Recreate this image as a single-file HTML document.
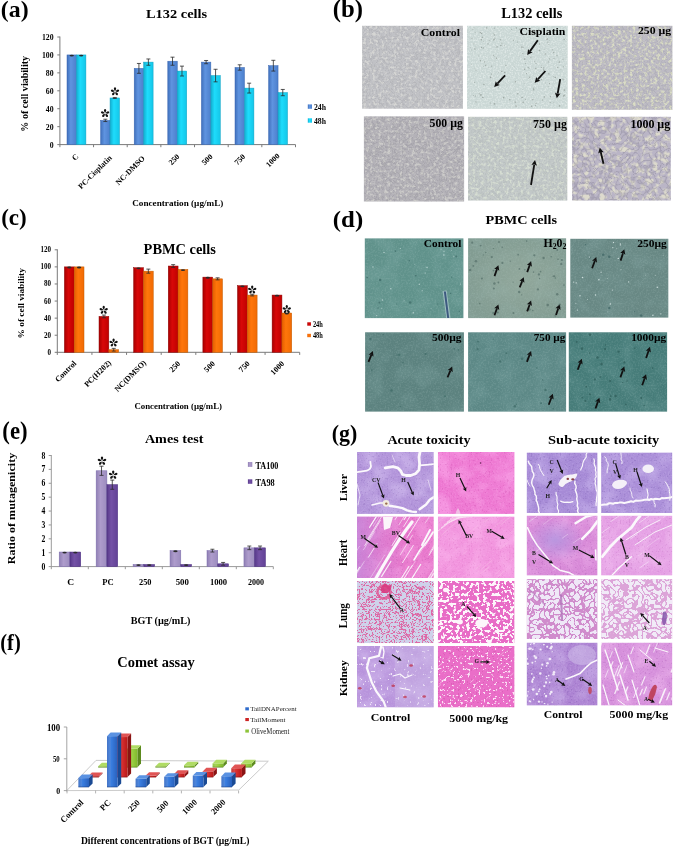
<!DOCTYPE html>
<html><head><meta charset="utf-8"><title>Figure</title>
<style>html,body{margin:0;padding:0;background:#fff;overflow:hidden;}svg{display:block;filter:blur(0.3px);}</style>
</head><body>
<svg xmlns="http://www.w3.org/2000/svg" width="675" height="848" viewBox="0 0 675 848">
<defs><linearGradient id="gBlue" x1="0" x2="1" y1="0" y2="0"><stop offset="0" stop-color="#4070bc"/><stop offset="0.4" stop-color="#5f94e0"/><stop offset="1" stop-color="#4c7fcc"/></linearGradient><linearGradient id="gCyan" x1="0" x2="1" y1="0" y2="0"><stop offset="0" stop-color="#12aed0"/><stop offset="0.4" stop-color="#1edcfc"/><stop offset="1" stop-color="#14c6e8"/></linearGradient><linearGradient id="gRed" x1="0" x2="1" y1="0" y2="0"><stop offset="0" stop-color="#a80000"/><stop offset="0.4" stop-color="#d80808"/><stop offset="1" stop-color="#c00000"/></linearGradient><linearGradient id="gOrange" x1="0" x2="1" y1="0" y2="0"><stop offset="0" stop-color="#e45e00"/><stop offset="0.4" stop-color="#ff760a"/><stop offset="1" stop-color="#f06a04"/></linearGradient><linearGradient id="gLav" x1="0" x2="1" y1="0" y2="0"><stop offset="0" stop-color="#9080b4"/><stop offset="0.4" stop-color="#ae9ccc"/><stop offset="1" stop-color="#9c8cbe"/></linearGradient><linearGradient id="gPur" x1="0" x2="1" y1="0" y2="0"><stop offset="0" stop-color="#583a8a"/><stop offset="0.4" stop-color="#7452a6"/><stop offset="1" stop-color="#624296"/></linearGradient><filter id="cellL" x="0" y="0" width="1" height="1" color-interpolation-filters="sRGB"><feTurbulence type="fractalNoise" baseFrequency="0.25" numOctaves="2" seed="2" result="t"/><feColorMatrix in="t" type="matrix" values="0 0 0 0 0  0 0 0 0 0  0 0 0 0 0  4 0 0 0 -2.0" result="th"/><feComposite in="SourceGraphic" in2="th" operator="in"/></filter><filter id="cellW" x="0" y="0" width="1" height="1" color-interpolation-filters="sRGB"><feTurbulence type="turbulence" baseFrequency="0.22" numOctaves="1" seed="4" result="t"/><feColorMatrix in="t" type="matrix" values="0 0 0 0 0  0 0 0 0 0  0 0 0 0 0  -6 0 0 0 1.0" result="th"/><feComposite in="SourceGraphic" in2="th" operator="in"/></filter><filter id="cellL2" x="0" y="0" width="1" height="1" color-interpolation-filters="sRGB"><feTurbulence type="fractalNoise" baseFrequency="0.14" numOctaves="2" seed="6" result="t"/><feColorMatrix in="t" type="matrix" values="0 0 0 0 0  0 0 0 0 0  0 0 0 0 0  4 0 0 0 -2.0" result="th"/><feComposite in="SourceGraphic" in2="th" operator="in"/></filter><filter id="cellW2" x="0" y="0" width="1" height="1" color-interpolation-filters="sRGB"><feTurbulence type="turbulence" baseFrequency="0.13" numOctaves="1" seed="8" result="t"/><feColorMatrix in="t" type="matrix" values="0 0 0 0 0  0 0 0 0 0  0 0 0 0 0  -6 0 0 0 1.0" result="th"/><feComposite in="SourceGraphic" in2="th" operator="in"/></filter><filter id="cellL3" x="0" y="0" width="1" height="1" color-interpolation-filters="sRGB"><feTurbulence type="fractalNoise" baseFrequency="0.19" numOctaves="2" seed="6" result="t"/><feColorMatrix in="t" type="matrix" values="0 0 0 0 0  0 0 0 0 0  0 0 0 0 0  4 0 0 0 -1.8" result="th"/><feComposite in="SourceGraphic" in2="th" operator="in"/></filter><filter id="cellF" x="0" y="0" width="1" height="1" color-interpolation-filters="sRGB"><feTurbulence type="fractalNoise" baseFrequency="0.33" numOctaves="2" seed="3" result="t"/><feColorMatrix in="t" type="matrix" values="0 0 0 0 0  0 0 0 0 0  0 0 0 0 0  4 0 0 0 -1.9" result="th"/><feComposite in="SourceGraphic" in2="th" operator="in"/></filter><filter id="cellWF" x="0" y="0" width="1" height="1" color-interpolation-filters="sRGB"><feTurbulence type="turbulence" baseFrequency="0.3" numOctaves="1" seed="5" result="t"/><feColorMatrix in="t" type="matrix" values="0 0 0 0 0  0 0 0 0 0  0 0 0 0 0  -6 0 0 0 1.0" result="th"/><feComposite in="SourceGraphic" in2="th" operator="in"/></filter><filter id="cellW3" x="0" y="0" width="1" height="1" color-interpolation-filters="sRGB"><feTurbulence type="turbulence" baseFrequency="0.18" numOctaves="1" seed="8" result="t"/><feColorMatrix in="t" type="matrix" values="0 0 0 0 0  0 0 0 0 0  0 0 0 0 0  -6 0 0 0 1.0" result="th"/><feComposite in="SourceGraphic" in2="th" operator="in"/></filter><filter id="fine" x="0" y="0" width="1" height="1" color-interpolation-filters="sRGB"><feTurbulence type="fractalNoise" baseFrequency="0.6" numOctaves="2" seed="12" result="t"/><feColorMatrix in="t" type="matrix" values="0 0 0 0 0  0 0 0 0 0  0 0 0 0 0  3 0 0 0 -1.3" result="th"/><feComposite in="SourceGraphic" in2="th" operator="in"/></filter><filter id="coarse" x="0" y="0" width="1" height="1" color-interpolation-filters="sRGB"><feTurbulence type="fractalNoise" baseFrequency="0.06" numOctaves="2" seed="14" result="t"/><feColorMatrix in="t" type="matrix" values="0 0 0 0 0  0 0 0 0 0  0 0 0 0 0  3 0 0 0 -1.2" result="th"/><feComposite in="SourceGraphic" in2="th" operator="in"/></filter><filter id="coarse2" x="0" y="0" width="1" height="1" color-interpolation-filters="sRGB"><feTurbulence type="fractalNoise" baseFrequency="0.05" numOctaves="2" seed="31" result="t"/><feColorMatrix in="t" type="matrix" values="0 0 0 0 0  0 0 0 0 0  0 0 0 0 0  3 0 0 0 -1.2" result="th"/><feComposite in="SourceGraphic" in2="th" operator="in"/></filter><filter id="nuc" x="0" y="0" width="1" height="1" color-interpolation-filters="sRGB"><feTurbulence type="fractalNoise" baseFrequency="0.55" numOctaves="1" seed="17" result="t"/><feColorMatrix in="t" type="matrix" values="0 0 0 0 0  0 0 0 0 0  0 0 0 0 0  1 0 0 0 0" result="m"/><feComponentTransfer in="m" result="th0"><feFuncA type="table" tableValues="0 0 0 0 0 0 0 0 0 0 0 0 0 1 1 1 1 1 1 1"/></feComponentTransfer><feGaussianBlur in="th0" stdDeviation="0.35" result="th"/><feComposite in="SourceGraphic" in2="th" operator="in"/></filter><filter id="lungNet" x="0" y="0" width="1" height="1" color-interpolation-filters="sRGB"><feTurbulence type="turbulence" baseFrequency="0.3" numOctaves="1" seed="7" result="t"/><feColorMatrix in="t" type="matrix" values="0 0 0 0 0  0 0 0 0 0  0 0 0 0 0  1 0 0 0 0" result="m"/><feComponentTransfer in="m" result="th0"><feFuncA type="table" tableValues="1 1 0 0 0 0 0 0 0 0 0 0 0 0 0 0 0 0 0 0"/></feComponentTransfer><feGaussianBlur in="th0" stdDeviation="0.5" result="th"/><feComposite in="SourceGraphic" in2="th" operator="in"/></filter><filter id="lungNetL" x="0" y="0" width="1" height="1" color-interpolation-filters="sRGB"><feTurbulence type="turbulence" baseFrequency="0.13" numOctaves="1" seed="9" result="t"/><feColorMatrix in="t" type="matrix" values="0 0 0 0 0  0 0 0 0 0  0 0 0 0 0  1 0 0 0 0" result="m"/><feComponentTransfer in="m" result="th0"><feFuncA type="table" tableValues="1 1 1 0 0 0 0 0 0 0 0 0 0 0 0 0 0 0 0 0"/></feComponentTransfer><feGaussianBlur in="th0" stdDeviation="0.45" result="th"/><feComposite in="SourceGraphic" in2="th" operator="in"/></filter><filter id="foam" x="0" y="0" width="1" height="1" color-interpolation-filters="sRGB"><feTurbulence type="turbulence" baseFrequency="0.2" numOctaves="1" seed="9" result="t"/><feColorMatrix in="t" type="matrix" values="0 0 0 0 0  0 0 0 0 0  0 0 0 0 0  1 0 0 0 0" result="m"/><feComponentTransfer in="m" result="th0"><feFuncA type="table" tableValues="0 0 0 1 1 1 1 1 1 1 1 1 1 1 1 1 1 1 1 1"/></feComponentTransfer><feGaussianBlur in="th0" stdDeviation="0.4" result="th"/><feComposite in="SourceGraphic" in2="th" operator="in"/></filter><filter id="foam2" x="0" y="0" width="1" height="1" color-interpolation-filters="sRGB"><feTurbulence type="turbulence" baseFrequency="0.21" numOctaves="1" seed="13" result="t"/><feColorMatrix in="t" type="matrix" values="0 0 0 0 0  0 0 0 0 0  0 0 0 0 0  1 0 0 0 0" result="m"/><feComponentTransfer in="m" result="th0"><feFuncA type="table" tableValues="0 0 0 1 1 1 1 1 1 1 1 1 1 1 1 1 1 1 1 1"/></feComponentTransfer><feGaussianBlur in="th0" stdDeviation="0.4" result="th"/><feComposite in="SourceGraphic" in2="th" operator="in"/></filter><filter id="lungHoles" x="0" y="0" width="1" height="1" color-interpolation-filters="sRGB"><feTurbulence type="fractalNoise" baseFrequency="0.3" numOctaves="2" seed="5" result="t"/><feColorMatrix in="t" type="matrix" values="0 0 0 0 0  0 0 0 0 0  0 0 0 0 0  1 0 0 0 0" result="m"/><feComponentTransfer in="m" result="th0"><feFuncA type="table" tableValues="0 0 0 0 0 0 0 0 0 0 0 1 1 1 1 1 1 1 1 1"/></feComponentTransfer><feGaussianBlur in="th0" stdDeviation="0.45" result="th"/><feComposite in="SourceGraphic" in2="th" operator="in"/></filter><filter id="kidHoles" x="0" y="0" width="1" height="1" color-interpolation-filters="sRGB"><feTurbulence type="fractalNoise" baseFrequency="0.22" numOctaves="1" seed="15" result="t"/><feColorMatrix in="t" type="matrix" values="0 0 0 0 0  0 0 0 0 0  0 0 0 0 0  1 0 0 0 0" result="m"/><feComponentTransfer in="m" result="th0"><feFuncA type="table" tableValues="0 0 0 0 0 0 0 0 0 0 0 0 0 1 1 1 1 1 1 1"/></feComponentTransfer><feGaussianBlur in="th0" stdDeviation="0.35" result="th"/><feComposite in="SourceGraphic" in2="th" operator="in"/></filter><filter id="kidHoles2" x="0" y="0" width="1" height="1" color-interpolation-filters="sRGB"><feTurbulence type="fractalNoise" baseFrequency="0.38" numOctaves="2" seed="23" result="t"/><feColorMatrix in="t" type="matrix" values="0 0 0 0 0  0 0 0 0 0  0 0 0 0 0  1 0 0 0 0" result="m"/><feComponentTransfer in="m" result="th0"><feFuncA type="table" tableValues="0 0 0 0 0 0 0 0 0 0 0 0 0 1 1 1 1 1 1 1"/></feComponentTransfer><feGaussianBlur in="th0" stdDeviation="0.4" result="th"/><feComposite in="SourceGraphic" in2="th" operator="in"/></filter><filter id="kidHoles3" x="0" y="0" width="1" height="1" color-interpolation-filters="sRGB"><feTurbulence type="fractalNoise" baseFrequency="0.3" numOctaves="2" seed="29" result="t"/><feColorMatrix in="t" type="matrix" values="0 0 0 0 0  0 0 0 0 0  0 0 0 0 0  1 0 0 0 0" result="m"/><feComponentTransfer in="m" result="th0"><feFuncA type="table" tableValues="0 0 0 0 0 0 0 0 0 0 0 0 0 0 1 1 1 1 1 1"/></feComponentTransfer><feGaussianBlur in="th0" stdDeviation="0.4" result="th"/><feComposite in="SourceGraphic" in2="th" operator="in"/></filter><filter id="tubules" x="0" y="0" width="1" height="1" color-interpolation-filters="sRGB"><feTurbulence type="fractalNoise" baseFrequency="0.3" numOctaves="1" seed="19" result="t"/><feColorMatrix in="t" type="matrix" values="0 0 0 0 0  0 0 0 0 0  0 0 0 0 0  1 0 0 0 0" result="m"/><feComponentTransfer in="m" result="th0"><feFuncA type="table" tableValues="0 0 0 0 0 0 0 0 0 0 0 0 0 0 1 1 1 1 1 1"/></feComponentTransfer><feGaussianBlur in="th0" stdDeviation="0.35" result="th"/><feComposite in="SourceGraphic" in2="th" operator="in"/></filter><linearGradient id="f3b" x1="0" x2="1" y1="0" y2="0"><stop offset="0" stop-color="#2a62c0"/><stop offset="0.4" stop-color="#3a7ee0"/><stop offset="1" stop-color="#2860bc"/></linearGradient><linearGradient id="f3r" x1="0" x2="1" y1="0" y2="0"><stop offset="0" stop-color="#c01c1c"/><stop offset="0.4" stop-color="#dc3434"/><stop offset="1" stop-color="#b81818"/></linearGradient><linearGradient id="f3g" x1="0" x2="1" y1="0" y2="0"><stop offset="0" stop-color="#84bc30"/><stop offset="0.4" stop-color="#a0d448"/><stop offset="1" stop-color="#80b82c"/></linearGradient></defs>
<rect width="675" height="848" fill="#fff"/>
<text font-family="Liberation Serif" font-weight="bold" font-size="24" text-anchor="start" fill="#000" transform="translate(0.81 17.02) scale(0.992 0.995) rotate(0)">(a)</text>
<text font-family="Liberation Serif" font-weight="bold" font-size="14" text-anchor="start" fill="#000" transform="translate(146.00 18.10) scale(1.029 0.950) rotate(0)">L132 cells</text>
<line x1="59.90" y1="36.50" x2="59.90" y2="145.10" stroke="#7a7a7a" stroke-width="1" />
<line x1="59.90" y1="144.60" x2="295.50" y2="144.60" stroke="#7a7a7a" stroke-width="1" />
<line x1="57.30" y1="144.60" x2="59.90" y2="144.60" stroke="#7a7a7a" stroke-width="1" />
<line x1="57.30" y1="126.67" x2="59.90" y2="126.67" stroke="#7a7a7a" stroke-width="1" />
<line x1="57.30" y1="108.73" x2="59.90" y2="108.73" stroke="#7a7a7a" stroke-width="1" />
<line x1="57.30" y1="90.80" x2="59.90" y2="90.80" stroke="#7a7a7a" stroke-width="1" />
<line x1="57.30" y1="72.87" x2="59.90" y2="72.87" stroke="#7a7a7a" stroke-width="1" />
<line x1="57.30" y1="54.93" x2="59.90" y2="54.93" stroke="#7a7a7a" stroke-width="1" />
<line x1="57.30" y1="37.00" x2="59.90" y2="37.00" stroke="#7a7a7a" stroke-width="1" />
<line x1="59.90" y1="144.60" x2="59.90" y2="147.20" stroke="#7a7a7a" stroke-width="1" />
<line x1="93.56" y1="144.60" x2="93.56" y2="147.20" stroke="#7a7a7a" stroke-width="1" />
<line x1="127.21" y1="144.60" x2="127.21" y2="147.20" stroke="#7a7a7a" stroke-width="1" />
<line x1="160.87" y1="144.60" x2="160.87" y2="147.20" stroke="#7a7a7a" stroke-width="1" />
<line x1="194.53" y1="144.60" x2="194.53" y2="147.20" stroke="#7a7a7a" stroke-width="1" />
<line x1="228.19" y1="144.60" x2="228.19" y2="147.20" stroke="#7a7a7a" stroke-width="1" />
<line x1="261.84" y1="144.60" x2="261.84" y2="147.20" stroke="#7a7a7a" stroke-width="1" />
<line x1="295.50" y1="144.60" x2="295.50" y2="147.20" stroke="#7a7a7a" stroke-width="1" />
<rect x="67.00" y="54.93" width="9.45" height="89.67" fill="url(#gBlue)" stroke="#3966b2" stroke-width="0.5"/>
<ellipse cx="71.72" cy="55.53" rx="2.20" ry="0.9" fill="#2a2a2a"/>
<rect x="76.45" y="54.93" width="9.45" height="89.67" fill="url(#gCyan)" stroke="#0fa2c4" stroke-width="0.5"/>
<ellipse cx="81.17" cy="55.53" rx="2.20" ry="0.9" fill="#2a2a2a"/>
<rect x="100.60" y="120.39" width="9.45" height="24.21" fill="url(#gBlue)" stroke="#3966b2" stroke-width="0.5"/>
<line x1="105.32" y1="119.22" x2="105.32" y2="121.56" stroke="#2a2a2a" stroke-width="0.8" />
<line x1="103.32" y1="119.22" x2="107.32" y2="119.22" stroke="#2a2a2a" stroke-width="0.8" />
<line x1="103.32" y1="121.56" x2="107.32" y2="121.56" stroke="#2a2a2a" stroke-width="0.8" />
<rect x="110.05" y="97.97" width="9.45" height="46.63" fill="url(#gCyan)" stroke="#0fa2c4" stroke-width="0.5"/>
<line x1="114.77" y1="97.44" x2="114.77" y2="98.51" stroke="#2a2a2a" stroke-width="0.8" />
<line x1="112.77" y1="97.44" x2="116.77" y2="97.44" stroke="#2a2a2a" stroke-width="0.8" />
<line x1="112.77" y1="98.51" x2="116.77" y2="98.51" stroke="#2a2a2a" stroke-width="0.8" />
<rect x="134.20" y="68.38" width="9.45" height="76.22" fill="url(#gBlue)" stroke="#3966b2" stroke-width="0.5"/>
<line x1="138.92" y1="63.45" x2="138.92" y2="73.31" stroke="#2a2a2a" stroke-width="0.8" />
<line x1="136.92" y1="63.45" x2="140.92" y2="63.45" stroke="#2a2a2a" stroke-width="0.8" />
<line x1="136.92" y1="73.31" x2="140.92" y2="73.31" stroke="#2a2a2a" stroke-width="0.8" />
<rect x="143.65" y="62.11" width="9.45" height="82.49" fill="url(#gCyan)" stroke="#0fa2c4" stroke-width="0.5"/>
<line x1="148.37" y1="58.97" x2="148.37" y2="65.25" stroke="#2a2a2a" stroke-width="0.8" />
<line x1="146.37" y1="58.97" x2="150.37" y2="58.97" stroke="#2a2a2a" stroke-width="0.8" />
<line x1="146.37" y1="65.25" x2="150.37" y2="65.25" stroke="#2a2a2a" stroke-width="0.8" />
<rect x="167.80" y="61.21" width="9.45" height="83.39" fill="url(#gBlue)" stroke="#3966b2" stroke-width="0.5"/>
<line x1="172.53" y1="57.17" x2="172.53" y2="65.24" stroke="#2a2a2a" stroke-width="0.8" />
<line x1="170.53" y1="57.17" x2="174.53" y2="57.17" stroke="#2a2a2a" stroke-width="0.8" />
<line x1="170.53" y1="65.24" x2="174.53" y2="65.24" stroke="#2a2a2a" stroke-width="0.8" />
<rect x="177.25" y="71.07" width="9.45" height="73.53" fill="url(#gCyan)" stroke="#0fa2c4" stroke-width="0.5"/>
<line x1="181.97" y1="66.14" x2="181.97" y2="76.01" stroke="#2a2a2a" stroke-width="0.8" />
<line x1="179.97" y1="66.14" x2="183.97" y2="66.14" stroke="#2a2a2a" stroke-width="0.8" />
<line x1="179.97" y1="76.01" x2="183.97" y2="76.01" stroke="#2a2a2a" stroke-width="0.8" />
<rect x="201.40" y="62.11" width="9.45" height="82.49" fill="url(#gBlue)" stroke="#3966b2" stroke-width="0.5"/>
<line x1="206.12" y1="60.49" x2="206.12" y2="63.72" stroke="#2a2a2a" stroke-width="0.8" />
<line x1="204.12" y1="60.49" x2="208.12" y2="60.49" stroke="#2a2a2a" stroke-width="0.8" />
<line x1="204.12" y1="63.72" x2="208.12" y2="63.72" stroke="#2a2a2a" stroke-width="0.8" />
<rect x="210.85" y="75.56" width="9.45" height="69.04" fill="url(#gCyan)" stroke="#0fa2c4" stroke-width="0.5"/>
<line x1="215.57" y1="69.28" x2="215.57" y2="81.83" stroke="#2a2a2a" stroke-width="0.8" />
<line x1="213.57" y1="69.28" x2="217.57" y2="69.28" stroke="#2a2a2a" stroke-width="0.8" />
<line x1="213.57" y1="81.83" x2="217.57" y2="81.83" stroke="#2a2a2a" stroke-width="0.8" />
<rect x="235.00" y="67.49" width="9.45" height="77.11" fill="url(#gBlue)" stroke="#3966b2" stroke-width="0.5"/>
<line x1="239.72" y1="64.80" x2="239.72" y2="70.18" stroke="#2a2a2a" stroke-width="0.8" />
<line x1="237.72" y1="64.80" x2="241.72" y2="64.80" stroke="#2a2a2a" stroke-width="0.8" />
<line x1="237.72" y1="70.18" x2="241.72" y2="70.18" stroke="#2a2a2a" stroke-width="0.8" />
<rect x="244.45" y="88.11" width="9.45" height="56.49" fill="url(#gCyan)" stroke="#0fa2c4" stroke-width="0.5"/>
<line x1="249.17" y1="83.18" x2="249.17" y2="93.04" stroke="#2a2a2a" stroke-width="0.8" />
<line x1="247.17" y1="83.18" x2="251.17" y2="83.18" stroke="#2a2a2a" stroke-width="0.8" />
<line x1="247.17" y1="93.04" x2="251.17" y2="93.04" stroke="#2a2a2a" stroke-width="0.8" />
<rect x="268.60" y="65.69" width="9.45" height="78.91" fill="url(#gBlue)" stroke="#3966b2" stroke-width="0.5"/>
<line x1="273.33" y1="60.31" x2="273.33" y2="71.07" stroke="#2a2a2a" stroke-width="0.8" />
<line x1="271.33" y1="60.31" x2="275.33" y2="60.31" stroke="#2a2a2a" stroke-width="0.8" />
<line x1="271.33" y1="71.07" x2="275.33" y2="71.07" stroke="#2a2a2a" stroke-width="0.8" />
<rect x="278.05" y="92.59" width="9.45" height="52.01" fill="url(#gCyan)" stroke="#0fa2c4" stroke-width="0.5"/>
<line x1="282.78" y1="89.45" x2="282.78" y2="95.73" stroke="#2a2a2a" stroke-width="0.8" />
<line x1="280.78" y1="89.45" x2="284.78" y2="89.45" stroke="#2a2a2a" stroke-width="0.8" />
<line x1="280.78" y1="95.73" x2="284.78" y2="95.73" stroke="#2a2a2a" stroke-width="0.8" />
<text font-family="Liberation Serif" font-weight="bold" font-size="8.2" text-anchor="end" fill="#000" transform="translate(53.60 147.50) scale(0.950 1.120) rotate(0)">0</text>
<text font-family="Liberation Serif" font-weight="bold" font-size="8.2" text-anchor="end" fill="#000" transform="translate(53.60 129.57) scale(0.950 1.120) rotate(0)">20</text>
<text font-family="Liberation Serif" font-weight="bold" font-size="8.2" text-anchor="end" fill="#000" transform="translate(53.60 111.63) scale(0.950 1.120) rotate(0)">40</text>
<text font-family="Liberation Serif" font-weight="bold" font-size="8.2" text-anchor="end" fill="#000" transform="translate(53.60 93.70) scale(0.950 1.120) rotate(0)">60</text>
<text font-family="Liberation Serif" font-weight="bold" font-size="8.2" text-anchor="end" fill="#000" transform="translate(53.60 75.77) scale(0.950 1.120) rotate(0)">80</text>
<text font-family="Liberation Serif" font-weight="bold" font-size="8.2" text-anchor="end" fill="#000" transform="translate(53.60 57.83) scale(0.950 1.120) rotate(0)">100</text>
<text font-family="Liberation Serif" font-weight="bold" font-size="8.2" text-anchor="end" fill="#000" transform="translate(53.60 39.90) scale(0.950 1.120) rotate(0)">120</text>
<text font-family="Liberation Serif" font-weight="bold" font-size="9.5" text-anchor="start" fill="#000" transform="translate(28.30 131.66) scale(0.986 1.060) rotate(-90)">% of cell viability</text>
<g transform="translate(105.10 113.40)" fill="#111"><path d="M0 -0.52 C -0.98 -1.52 -1.96 -3.91 0 -4.35 C 1.96 -3.91 0.98 -1.52 0 -0.52 Z" transform="rotate(0)"/><path d="M0 -0.52 C -0.98 -1.52 -1.96 -3.91 0 -4.35 C 1.96 -3.91 0.98 -1.52 0 -0.52 Z" transform="rotate(72)"/><path d="M0 -0.52 C -0.98 -1.52 -1.96 -3.91 0 -4.35 C 1.96 -3.91 0.98 -1.52 0 -0.52 Z" transform="rotate(144)"/><path d="M0 -0.52 C -0.98 -1.52 -1.96 -3.91 0 -4.35 C 1.96 -3.91 0.98 -1.52 0 -0.52 Z" transform="rotate(216)"/><path d="M0 -0.52 C -0.98 -1.52 -1.96 -3.91 0 -4.35 C 1.96 -3.91 0.98 -1.52 0 -0.52 Z" transform="rotate(288)"/></g>
<g transform="translate(115.00 91.70)" fill="#111"><path d="M0 -0.52 C -0.98 -1.52 -1.96 -3.91 0 -4.35 C 1.96 -3.91 0.98 -1.52 0 -0.52 Z" transform="rotate(0)"/><path d="M0 -0.52 C -0.98 -1.52 -1.96 -3.91 0 -4.35 C 1.96 -3.91 0.98 -1.52 0 -0.52 Z" transform="rotate(72)"/><path d="M0 -0.52 C -0.98 -1.52 -1.96 -3.91 0 -4.35 C 1.96 -3.91 0.98 -1.52 0 -0.52 Z" transform="rotate(144)"/><path d="M0 -0.52 C -0.98 -1.52 -1.96 -3.91 0 -4.35 C 1.96 -3.91 0.98 -1.52 0 -0.52 Z" transform="rotate(216)"/><path d="M0 -0.52 C -0.98 -1.52 -1.96 -3.91 0 -4.35 C 1.96 -3.91 0.98 -1.52 0 -0.52 Z" transform="rotate(288)"/></g>
<text font-family="Liberation Serif" font-weight="bold" font-size="7.9" text-anchor="end" fill="#000" transform="translate(79.00 157.00) scale(1.000 1.000) rotate(-45)">C</text>
<text font-family="Liberation Serif" font-weight="bold" font-size="7.9" text-anchor="end" fill="#000" transform="translate(112.30 158.40) scale(1.000 1.000) rotate(-45)">PC-Cisplatin</text>
<text font-family="Liberation Serif" font-weight="bold" font-size="7.9" text-anchor="end" fill="#000" transform="translate(145.40 158.80) scale(1.000 1.000) rotate(-45)">NC-DMSO</text>
<text font-family="Liberation Serif" font-weight="bold" font-size="7.9" text-anchor="end" fill="#000" transform="translate(180.00 157.10) scale(1.000 1.000) rotate(-45)">250</text>
<text font-family="Liberation Serif" font-weight="bold" font-size="7.9" text-anchor="end" fill="#000" transform="translate(213.20 157.10) scale(1.000 1.000) rotate(-45)">500</text>
<text font-family="Liberation Serif" font-weight="bold" font-size="7.9" text-anchor="end" fill="#000" transform="translate(245.80 157.10) scale(1.000 1.000) rotate(-45)">750</text>
<text font-family="Liberation Serif" font-weight="bold" font-size="7.9" text-anchor="end" fill="#000" transform="translate(280.20 156.50) scale(1.000 1.000) rotate(-45)">1000</text>
<text font-family="Liberation Serif" font-weight="bold" font-size="9.5" text-anchor="start" fill="#000" transform="translate(132.20 206.40) scale(0.966 0.929) rotate(0)">Concentration (µg/mL)</text>
<rect x="307.80" y="104.40" width="4.20" height="4.40" fill="url(#gBlue)" />
<text font-family="Liberation Serif" font-weight="bold" font-size="8.5" text-anchor="start" fill="#000" transform="translate(314.00 110.20) scale(0.908 1.000) rotate(0)">24h</text>
<rect x="307.80" y="118.30" width="4.20" height="4.40" fill="url(#gCyan)" />
<text font-family="Liberation Serif" font-weight="bold" font-size="8.5" text-anchor="start" fill="#000" transform="translate(314.00 123.90) scale(0.908 0.950) rotate(0)">48h</text>
<text font-family="Liberation Serif" font-weight="bold" font-size="24" text-anchor="start" fill="#000" transform="translate(1.14 224.78) scale(0.960 1.005) rotate(0)">(c)</text>
<text font-family="Liberation Serif" font-weight="bold" font-size="14" text-anchor="start" fill="#000" transform="translate(143.60 254.00) scale(1.029 0.980) rotate(0)">PBMC cells</text>
<line x1="57.30" y1="249.30" x2="57.30" y2="352.80" stroke="#7a7a7a" stroke-width="1" />
<line x1="57.30" y1="352.30" x2="299.70" y2="352.30" stroke="#7a7a7a" stroke-width="1" />
<line x1="54.70" y1="352.30" x2="57.30" y2="352.30" stroke="#7a7a7a" stroke-width="1" />
<line x1="54.70" y1="335.22" x2="57.30" y2="335.22" stroke="#7a7a7a" stroke-width="1" />
<line x1="54.70" y1="318.13" x2="57.30" y2="318.13" stroke="#7a7a7a" stroke-width="1" />
<line x1="54.70" y1="301.05" x2="57.30" y2="301.05" stroke="#7a7a7a" stroke-width="1" />
<line x1="54.70" y1="283.97" x2="57.30" y2="283.97" stroke="#7a7a7a" stroke-width="1" />
<line x1="54.70" y1="266.88" x2="57.30" y2="266.88" stroke="#7a7a7a" stroke-width="1" />
<line x1="54.70" y1="249.80" x2="57.30" y2="249.80" stroke="#7a7a7a" stroke-width="1" />
<line x1="57.30" y1="352.30" x2="57.30" y2="354.90" stroke="#7a7a7a" stroke-width="1" />
<line x1="91.93" y1="352.30" x2="91.93" y2="354.90" stroke="#7a7a7a" stroke-width="1" />
<line x1="126.56" y1="352.30" x2="126.56" y2="354.90" stroke="#7a7a7a" stroke-width="1" />
<line x1="161.19" y1="352.30" x2="161.19" y2="354.90" stroke="#7a7a7a" stroke-width="1" />
<line x1="195.81" y1="352.30" x2="195.81" y2="354.90" stroke="#7a7a7a" stroke-width="1" />
<line x1="230.44" y1="352.30" x2="230.44" y2="354.90" stroke="#7a7a7a" stroke-width="1" />
<line x1="265.07" y1="352.30" x2="265.07" y2="354.90" stroke="#7a7a7a" stroke-width="1" />
<line x1="299.70" y1="352.30" x2="299.70" y2="354.90" stroke="#7a7a7a" stroke-width="1" />
<rect x="64.40" y="266.88" width="9.80" height="85.42" fill="url(#gRed)" stroke="#8c0000" stroke-width="0.5"/>
<ellipse cx="69.30" cy="267.48" rx="2.20" ry="0.9" fill="#2a2a2a"/>
<rect x="74.20" y="266.88" width="9.80" height="85.42" fill="url(#gOrange)" stroke="#c45c00" stroke-width="0.5"/>
<ellipse cx="79.10" cy="267.48" rx="2.20" ry="0.9" fill="#2a2a2a"/>
<rect x="99.02" y="316.43" width="9.80" height="35.88" fill="url(#gRed)" stroke="#8c0000" stroke-width="0.5"/>
<line x1="103.92" y1="315.06" x2="103.92" y2="317.79" stroke="#2a2a2a" stroke-width="0.8" />
<line x1="101.92" y1="315.06" x2="105.92" y2="315.06" stroke="#2a2a2a" stroke-width="0.8" />
<line x1="101.92" y1="317.79" x2="105.92" y2="317.79" stroke="#2a2a2a" stroke-width="0.8" />
<rect x="108.82" y="349.74" width="9.80" height="2.56" fill="url(#gOrange)" stroke="#c45c00" stroke-width="0.5"/>
<line x1="113.72" y1="348.37" x2="113.72" y2="351.10" stroke="#2a2a2a" stroke-width="0.8" />
<line x1="111.72" y1="348.37" x2="115.72" y2="348.37" stroke="#2a2a2a" stroke-width="0.8" />
<line x1="111.72" y1="351.10" x2="115.72" y2="351.10" stroke="#2a2a2a" stroke-width="0.8" />
<rect x="133.64" y="267.74" width="9.80" height="84.56" fill="url(#gRed)" stroke="#8c0000" stroke-width="0.5"/>
<ellipse cx="138.54" cy="268.34" rx="2.20" ry="0.9" fill="#2a2a2a"/>
<rect x="143.44" y="271.15" width="9.80" height="81.15" fill="url(#gOrange)" stroke="#c45c00" stroke-width="0.5"/>
<line x1="148.34" y1="269.10" x2="148.34" y2="273.20" stroke="#2a2a2a" stroke-width="0.8" />
<line x1="146.34" y1="269.10" x2="150.34" y2="269.10" stroke="#2a2a2a" stroke-width="0.8" />
<line x1="146.34" y1="273.20" x2="150.34" y2="273.20" stroke="#2a2a2a" stroke-width="0.8" />
<rect x="168.26" y="266.03" width="9.80" height="86.27" fill="url(#gRed)" stroke="#8c0000" stroke-width="0.5"/>
<line x1="173.16" y1="264.66" x2="173.16" y2="267.40" stroke="#2a2a2a" stroke-width="0.8" />
<line x1="171.16" y1="264.66" x2="175.16" y2="264.66" stroke="#2a2a2a" stroke-width="0.8" />
<line x1="171.16" y1="267.40" x2="175.16" y2="267.40" stroke="#2a2a2a" stroke-width="0.8" />
<rect x="178.06" y="269.45" width="9.80" height="82.85" fill="url(#gOrange)" stroke="#c45c00" stroke-width="0.5"/>
<ellipse cx="182.96" cy="270.05" rx="2.20" ry="0.9" fill="#2a2a2a"/>
<rect x="202.88" y="277.13" width="9.80" height="75.17" fill="url(#gRed)" stroke="#8c0000" stroke-width="0.5"/>
<ellipse cx="207.78" cy="277.73" rx="2.20" ry="0.9" fill="#2a2a2a"/>
<rect x="212.68" y="278.84" width="9.80" height="73.46" fill="url(#gOrange)" stroke="#c45c00" stroke-width="0.5"/>
<line x1="217.58" y1="277.82" x2="217.58" y2="279.87" stroke="#2a2a2a" stroke-width="0.8" />
<line x1="215.58" y1="277.82" x2="219.58" y2="277.82" stroke="#2a2a2a" stroke-width="0.8" />
<line x1="215.58" y1="279.87" x2="219.58" y2="279.87" stroke="#2a2a2a" stroke-width="0.8" />
<rect x="237.50" y="285.68" width="9.80" height="66.62" fill="url(#gRed)" stroke="#8c0000" stroke-width="0.5"/>
<ellipse cx="242.40" cy="286.28" rx="2.20" ry="0.9" fill="#2a2a2a"/>
<rect x="247.30" y="295.07" width="9.80" height="57.23" fill="url(#gOrange)" stroke="#c45c00" stroke-width="0.5"/>
<line x1="252.20" y1="294.22" x2="252.20" y2="295.93" stroke="#2a2a2a" stroke-width="0.8" />
<line x1="250.20" y1="294.22" x2="254.20" y2="294.22" stroke="#2a2a2a" stroke-width="0.8" />
<line x1="250.20" y1="295.93" x2="254.20" y2="295.93" stroke="#2a2a2a" stroke-width="0.8" />
<rect x="272.12" y="295.07" width="9.80" height="57.23" fill="url(#gRed)" stroke="#8c0000" stroke-width="0.5"/>
<ellipse cx="277.02" cy="295.67" rx="2.20" ry="0.9" fill="#2a2a2a"/>
<rect x="281.92" y="313.01" width="9.80" height="39.29" fill="url(#gOrange)" stroke="#c45c00" stroke-width="0.5"/>
<ellipse cx="286.82" cy="313.61" rx="2.20" ry="0.9" fill="#2a2a2a"/>
<text font-family="Liberation Serif" font-weight="bold" font-size="7.4" text-anchor="end" fill="#000" transform="translate(51.10 354.80) scale(0.950 1.050) rotate(0)">0</text>
<text font-family="Liberation Serif" font-weight="bold" font-size="7.4" text-anchor="end" fill="#000" transform="translate(51.10 337.72) scale(0.950 1.050) rotate(0)">20</text>
<text font-family="Liberation Serif" font-weight="bold" font-size="7.4" text-anchor="end" fill="#000" transform="translate(51.10 320.63) scale(0.950 1.050) rotate(0)">40</text>
<text font-family="Liberation Serif" font-weight="bold" font-size="7.4" text-anchor="end" fill="#000" transform="translate(51.10 303.55) scale(0.950 1.050) rotate(0)">60</text>
<text font-family="Liberation Serif" font-weight="bold" font-size="7.4" text-anchor="end" fill="#000" transform="translate(51.10 286.47) scale(0.950 1.050) rotate(0)">80</text>
<text font-family="Liberation Serif" font-weight="bold" font-size="7.4" text-anchor="end" fill="#000" transform="translate(51.10 269.38) scale(0.950 1.050) rotate(0)">100</text>
<text font-family="Liberation Serif" font-weight="bold" font-size="7.4" text-anchor="end" fill="#000" transform="translate(51.10 252.30) scale(0.950 1.050) rotate(0)">120</text>
<text font-family="Liberation Serif" font-weight="bold" font-size="8.5" text-anchor="start" fill="#000" transform="translate(24.00 338.40) scale(0.950 1.100) rotate(-90)">% of cell viability</text>
<g transform="translate(103.70 310.20)" fill="#111"><path d="M0 -0.52 C -0.98 -1.52 -1.96 -3.91 0 -4.35 C 1.96 -3.91 0.98 -1.52 0 -0.52 Z" transform="rotate(0)"/><path d="M0 -0.52 C -0.98 -1.52 -1.96 -3.91 0 -4.35 C 1.96 -3.91 0.98 -1.52 0 -0.52 Z" transform="rotate(72)"/><path d="M0 -0.52 C -0.98 -1.52 -1.96 -3.91 0 -4.35 C 1.96 -3.91 0.98 -1.52 0 -0.52 Z" transform="rotate(144)"/><path d="M0 -0.52 C -0.98 -1.52 -1.96 -3.91 0 -4.35 C 1.96 -3.91 0.98 -1.52 0 -0.52 Z" transform="rotate(216)"/><path d="M0 -0.52 C -0.98 -1.52 -1.96 -3.91 0 -4.35 C 1.96 -3.91 0.98 -1.52 0 -0.52 Z" transform="rotate(288)"/></g>
<g transform="translate(113.60 342.80)" fill="#111"><path d="M0 -0.52 C -0.98 -1.52 -1.96 -3.91 0 -4.35 C 1.96 -3.91 0.98 -1.52 0 -0.52 Z" transform="rotate(0)"/><path d="M0 -0.52 C -0.98 -1.52 -1.96 -3.91 0 -4.35 C 1.96 -3.91 0.98 -1.52 0 -0.52 Z" transform="rotate(72)"/><path d="M0 -0.52 C -0.98 -1.52 -1.96 -3.91 0 -4.35 C 1.96 -3.91 0.98 -1.52 0 -0.52 Z" transform="rotate(144)"/><path d="M0 -0.52 C -0.98 -1.52 -1.96 -3.91 0 -4.35 C 1.96 -3.91 0.98 -1.52 0 -0.52 Z" transform="rotate(216)"/><path d="M0 -0.52 C -0.98 -1.52 -1.96 -3.91 0 -4.35 C 1.96 -3.91 0.98 -1.52 0 -0.52 Z" transform="rotate(288)"/></g>
<g transform="translate(252.20 289.80)" fill="#111"><path d="M0 -0.52 C -0.98 -1.52 -1.96 -3.91 0 -4.35 C 1.96 -3.91 0.98 -1.52 0 -0.52 Z" transform="rotate(0)"/><path d="M0 -0.52 C -0.98 -1.52 -1.96 -3.91 0 -4.35 C 1.96 -3.91 0.98 -1.52 0 -0.52 Z" transform="rotate(72)"/><path d="M0 -0.52 C -0.98 -1.52 -1.96 -3.91 0 -4.35 C 1.96 -3.91 0.98 -1.52 0 -0.52 Z" transform="rotate(144)"/><path d="M0 -0.52 C -0.98 -1.52 -1.96 -3.91 0 -4.35 C 1.96 -3.91 0.98 -1.52 0 -0.52 Z" transform="rotate(216)"/><path d="M0 -0.52 C -0.98 -1.52 -1.96 -3.91 0 -4.35 C 1.96 -3.91 0.98 -1.52 0 -0.52 Z" transform="rotate(288)"/></g>
<g transform="translate(286.80 309.40)" fill="#111"><path d="M0 -0.52 C -0.98 -1.52 -1.96 -3.91 0 -4.35 C 1.96 -3.91 0.98 -1.52 0 -0.52 Z" transform="rotate(0)"/><path d="M0 -0.52 C -0.98 -1.52 -1.96 -3.91 0 -4.35 C 1.96 -3.91 0.98 -1.52 0 -0.52 Z" transform="rotate(72)"/><path d="M0 -0.52 C -0.98 -1.52 -1.96 -3.91 0 -4.35 C 1.96 -3.91 0.98 -1.52 0 -0.52 Z" transform="rotate(144)"/><path d="M0 -0.52 C -0.98 -1.52 -1.96 -3.91 0 -4.35 C 1.96 -3.91 0.98 -1.52 0 -0.52 Z" transform="rotate(216)"/><path d="M0 -0.52 C -0.98 -1.52 -1.96 -3.91 0 -4.35 C 1.96 -3.91 0.98 -1.52 0 -0.52 Z" transform="rotate(288)"/></g>
<text font-family="Liberation Serif" font-weight="bold" font-size="8.0" text-anchor="end" fill="#000" transform="translate(76.90 363.80) scale(1.000 1.000) rotate(-45)">Control</text>
<text font-family="Liberation Serif" font-weight="bold" font-size="8.0" text-anchor="end" fill="#000" transform="translate(111.60 363.30) scale(1.000 1.000) rotate(-45)">PC(H202)</text>
<text font-family="Liberation Serif" font-weight="bold" font-size="8.0" text-anchor="end" fill="#000" transform="translate(146.70 363.30) scale(1.000 1.000) rotate(-45)">NC(DMSO)</text>
<text font-family="Liberation Serif" font-weight="bold" font-size="8.0" text-anchor="end" fill="#000" transform="translate(180.90 364.20) scale(1.000 1.000) rotate(-45)">250</text>
<text font-family="Liberation Serif" font-weight="bold" font-size="8.0" text-anchor="end" fill="#000" transform="translate(215.60 364.20) scale(1.000 1.000) rotate(-45)">500</text>
<text font-family="Liberation Serif" font-weight="bold" font-size="8.0" text-anchor="end" fill="#000" transform="translate(250.30 364.20) scale(1.000 1.000) rotate(-45)">750</text>
<text font-family="Liberation Serif" font-weight="bold" font-size="8.0" text-anchor="end" fill="#000" transform="translate(284.90 364.20) scale(1.000 1.000) rotate(-45)">1000</text>
<text font-family="Liberation Serif" font-weight="bold" font-size="9.5" text-anchor="start" fill="#000" transform="translate(134.40 409.20) scale(0.930 0.943) rotate(0)">Concentration (µg/mL)</text>
<rect x="307.30" y="322.30" width="3.60" height="3.40" fill="url(#gRed)" />
<text font-family="Liberation Serif" font-weight="bold" font-size="6.5" text-anchor="start" fill="#000" transform="translate(312.90 326.80) scale(0.980 1.175) rotate(0)">24h</text>
<rect x="307.30" y="333.80" width="3.60" height="3.40" fill="url(#gOrange)" />
<text font-family="Liberation Serif" font-weight="bold" font-size="6.5" text-anchor="start" fill="#000" transform="translate(312.90 337.90) scale(0.980 1.125) rotate(0)">48h</text>
<text font-family="Liberation Serif" font-weight="bold" font-size="24" text-anchor="start" fill="#000" transform="translate(2.35 439.46) scale(0.948 1.029) rotate(0)">(e)</text>
<text font-family="Liberation Serif" font-weight="bold" font-size="14" text-anchor="start" fill="#000" transform="translate(144.90 442.70) scale(1.012 0.900) rotate(0)">Ames test</text>
<line x1="51.30" y1="455.00" x2="51.30" y2="567.10" stroke="#9a9a9a" stroke-width="1" />
<line x1="51.30" y1="566.60" x2="273.30" y2="566.60" stroke="#9a9a9a" stroke-width="1" />
<line x1="48.70" y1="566.60" x2="51.30" y2="566.60" stroke="#9a9a9a" stroke-width="1" />
<line x1="48.70" y1="552.71" x2="51.30" y2="552.71" stroke="#9a9a9a" stroke-width="1" />
<line x1="48.70" y1="538.83" x2="51.30" y2="538.83" stroke="#9a9a9a" stroke-width="1" />
<line x1="48.70" y1="524.94" x2="51.30" y2="524.94" stroke="#9a9a9a" stroke-width="1" />
<line x1="48.70" y1="511.05" x2="51.30" y2="511.05" stroke="#9a9a9a" stroke-width="1" />
<line x1="48.70" y1="497.16" x2="51.30" y2="497.16" stroke="#9a9a9a" stroke-width="1" />
<line x1="48.70" y1="483.27" x2="51.30" y2="483.27" stroke="#9a9a9a" stroke-width="1" />
<line x1="48.70" y1="469.39" x2="51.30" y2="469.39" stroke="#9a9a9a" stroke-width="1" />
<line x1="48.70" y1="455.50" x2="51.30" y2="455.50" stroke="#9a9a9a" stroke-width="1" />
<line x1="51.30" y1="566.60" x2="51.30" y2="569.20" stroke="#9a9a9a" stroke-width="1" />
<line x1="88.30" y1="566.60" x2="88.30" y2="569.20" stroke="#9a9a9a" stroke-width="1" />
<line x1="125.30" y1="566.60" x2="125.30" y2="569.20" stroke="#9a9a9a" stroke-width="1" />
<line x1="162.30" y1="566.60" x2="162.30" y2="569.20" stroke="#9a9a9a" stroke-width="1" />
<line x1="199.30" y1="566.60" x2="199.30" y2="569.20" stroke="#9a9a9a" stroke-width="1" />
<line x1="236.30" y1="566.60" x2="236.30" y2="569.20" stroke="#9a9a9a" stroke-width="1" />
<line x1="273.30" y1="566.60" x2="273.30" y2="569.20" stroke="#9a9a9a" stroke-width="1" />
<rect x="59.20" y="552.02" width="10.75" height="14.58" fill="url(#gLav)" stroke="#7a6aac" stroke-width="0.5"/>
<ellipse cx="64.58" cy="552.62" rx="2.20" ry="0.9" fill="#2a2a2a"/>
<rect x="69.95" y="552.02" width="10.75" height="14.58" fill="url(#gPur)" stroke="#46287c" stroke-width="0.5"/>
<ellipse cx="75.33" cy="552.62" rx="2.20" ry="0.9" fill="#2a2a2a"/>
<rect x="96.15" y="470.78" width="10.75" height="95.82" fill="url(#gLav)" stroke="#7a6aac" stroke-width="0.5"/>
<line x1="101.53" y1="466.19" x2="101.53" y2="475.36" stroke="#2a2a2a" stroke-width="0.8" />
<line x1="99.53" y1="466.19" x2="103.53" y2="466.19" stroke="#2a2a2a" stroke-width="0.8" />
<line x1="99.53" y1="475.36" x2="103.53" y2="475.36" stroke="#2a2a2a" stroke-width="0.8" />
<rect x="106.90" y="484.66" width="10.75" height="81.94" fill="url(#gPur)" stroke="#46287c" stroke-width="0.5"/>
<line x1="112.28" y1="480.08" x2="112.28" y2="489.25" stroke="#2a2a2a" stroke-width="0.8" />
<line x1="110.28" y1="480.08" x2="114.28" y2="480.08" stroke="#2a2a2a" stroke-width="0.8" />
<line x1="110.28" y1="489.25" x2="114.28" y2="489.25" stroke="#2a2a2a" stroke-width="0.8" />
<rect x="133.10" y="564.52" width="10.75" height="2.08" fill="url(#gLav)" stroke="#7a6aac" stroke-width="0.5"/>
<ellipse cx="138.48" cy="565.12" rx="2.20" ry="0.9" fill="#2a2a2a"/>
<rect x="143.85" y="564.52" width="10.75" height="2.08" fill="url(#gPur)" stroke="#46287c" stroke-width="0.5"/>
<ellipse cx="149.23" cy="565.12" rx="2.20" ry="0.9" fill="#2a2a2a"/>
<rect x="170.05" y="550.63" width="10.75" height="15.97" fill="url(#gLav)" stroke="#7a6aac" stroke-width="0.5"/>
<ellipse cx="175.43" cy="551.23" rx="2.20" ry="0.9" fill="#2a2a2a"/>
<rect x="180.80" y="564.52" width="10.75" height="2.08" fill="url(#gPur)" stroke="#46287c" stroke-width="0.5"/>
<ellipse cx="186.18" cy="565.12" rx="2.20" ry="0.9" fill="#2a2a2a"/>
<rect x="207.00" y="550.63" width="10.75" height="15.97" fill="url(#gLav)" stroke="#7a6aac" stroke-width="0.5"/>
<line x1="212.38" y1="549.24" x2="212.38" y2="552.02" stroke="#2a2a2a" stroke-width="0.8" />
<line x1="210.38" y1="549.24" x2="214.38" y2="549.24" stroke="#2a2a2a" stroke-width="0.8" />
<line x1="210.38" y1="552.02" x2="214.38" y2="552.02" stroke="#2a2a2a" stroke-width="0.8" />
<rect x="217.75" y="563.82" width="10.75" height="2.78" fill="url(#gPur)" stroke="#46287c" stroke-width="0.5"/>
<line x1="223.12" y1="562.43" x2="223.12" y2="565.21" stroke="#2a2a2a" stroke-width="0.8" />
<line x1="221.12" y1="562.43" x2="225.12" y2="562.43" stroke="#2a2a2a" stroke-width="0.8" />
<line x1="221.12" y1="565.21" x2="225.12" y2="565.21" stroke="#2a2a2a" stroke-width="0.8" />
<rect x="243.95" y="547.85" width="10.75" height="18.75" fill="url(#gLav)" stroke="#7a6aac" stroke-width="0.5"/>
<line x1="249.32" y1="546.05" x2="249.32" y2="549.66" stroke="#2a2a2a" stroke-width="0.8" />
<line x1="247.32" y1="546.05" x2="251.32" y2="546.05" stroke="#2a2a2a" stroke-width="0.8" />
<line x1="247.32" y1="549.66" x2="251.32" y2="549.66" stroke="#2a2a2a" stroke-width="0.8" />
<rect x="254.70" y="547.85" width="10.75" height="18.75" fill="url(#gPur)" stroke="#46287c" stroke-width="0.5"/>
<line x1="260.07" y1="546.05" x2="260.07" y2="549.66" stroke="#2a2a2a" stroke-width="0.8" />
<line x1="258.07" y1="546.05" x2="262.07" y2="546.05" stroke="#2a2a2a" stroke-width="0.8" />
<line x1="258.07" y1="549.66" x2="262.07" y2="549.66" stroke="#2a2a2a" stroke-width="0.8" />
<text font-family="Liberation Serif" font-weight="bold" font-size="9" text-anchor="end" fill="#000" transform="translate(45.20 569.60) scale(0.850 1.200) rotate(0)">0</text>
<text font-family="Liberation Serif" font-weight="bold" font-size="9" text-anchor="end" fill="#000" transform="translate(45.20 555.71) scale(0.850 1.200) rotate(0)">1</text>
<text font-family="Liberation Serif" font-weight="bold" font-size="9" text-anchor="end" fill="#000" transform="translate(45.20 541.83) scale(0.850 1.200) rotate(0)">2</text>
<text font-family="Liberation Serif" font-weight="bold" font-size="9" text-anchor="end" fill="#000" transform="translate(45.20 527.94) scale(0.850 1.200) rotate(0)">3</text>
<text font-family="Liberation Serif" font-weight="bold" font-size="9" text-anchor="end" fill="#000" transform="translate(45.20 514.05) scale(0.850 1.200) rotate(0)">4</text>
<text font-family="Liberation Serif" font-weight="bold" font-size="9" text-anchor="end" fill="#000" transform="translate(45.20 500.16) scale(0.850 1.200) rotate(0)">5</text>
<text font-family="Liberation Serif" font-weight="bold" font-size="9" text-anchor="end" fill="#000" transform="translate(45.20 486.27) scale(0.850 1.200) rotate(0)">6</text>
<text font-family="Liberation Serif" font-weight="bold" font-size="9" text-anchor="end" fill="#000" transform="translate(45.20 472.39) scale(0.850 1.200) rotate(0)">7</text>
<text font-family="Liberation Serif" font-weight="bold" font-size="9" text-anchor="end" fill="#000" transform="translate(45.20 458.50) scale(0.850 1.200) rotate(0)">8</text>
<text font-family="Liberation Serif" font-weight="bold" font-size="10.5" text-anchor="start" fill="#000" transform="translate(14.60 564.25) scale(0.957 1.153) rotate(-90)">Ratio of mutagenicity</text>
<g transform="translate(102.00 461.00)" fill="#111"><path d="M0 -0.54 C -1.01 -1.57 -2.02 -4.05 0 -4.50 C 2.02 -4.05 1.01 -1.57 0 -0.54 Z" transform="rotate(0)"/><path d="M0 -0.54 C -1.01 -1.57 -2.02 -4.05 0 -4.50 C 2.02 -4.05 1.01 -1.57 0 -0.54 Z" transform="rotate(72)"/><path d="M0 -0.54 C -1.01 -1.57 -2.02 -4.05 0 -4.50 C 2.02 -4.05 1.01 -1.57 0 -0.54 Z" transform="rotate(144)"/><path d="M0 -0.54 C -1.01 -1.57 -2.02 -4.05 0 -4.50 C 2.02 -4.05 1.01 -1.57 0 -0.54 Z" transform="rotate(216)"/><path d="M0 -0.54 C -1.01 -1.57 -2.02 -4.05 0 -4.50 C 2.02 -4.05 1.01 -1.57 0 -0.54 Z" transform="rotate(288)"/></g>
<g transform="translate(113.20 475.00)" fill="#111"><path d="M0 -0.54 C -1.01 -1.57 -2.02 -4.05 0 -4.50 C 2.02 -4.05 1.01 -1.57 0 -0.54 Z" transform="rotate(0)"/><path d="M0 -0.54 C -1.01 -1.57 -2.02 -4.05 0 -4.50 C 2.02 -4.05 1.01 -1.57 0 -0.54 Z" transform="rotate(72)"/><path d="M0 -0.54 C -1.01 -1.57 -2.02 -4.05 0 -4.50 C 2.02 -4.05 1.01 -1.57 0 -0.54 Z" transform="rotate(144)"/><path d="M0 -0.54 C -1.01 -1.57 -2.02 -4.05 0 -4.50 C 2.02 -4.05 1.01 -1.57 0 -0.54 Z" transform="rotate(216)"/><path d="M0 -0.54 C -1.01 -1.57 -2.02 -4.05 0 -4.50 C 2.02 -4.05 1.01 -1.57 0 -0.54 Z" transform="rotate(288)"/></g>
<text font-family="Liberation Serif" font-weight="bold" font-size="9.5" text-anchor="start" fill="#000" transform="translate(67.20 584.60) scale(1.000 0.971) rotate(0)">C</text>
<text font-family="Liberation Serif" font-weight="bold" font-size="9.5" text-anchor="start" fill="#000" transform="translate(102.20 584.60) scale(0.908 0.971) rotate(0)">PC</text>
<text font-family="Liberation Serif" font-weight="bold" font-size="9.5" text-anchor="start" fill="#000" transform="translate(139.00 584.60) scale(0.879 0.971) rotate(0)">250</text>
<text font-family="Liberation Serif" font-weight="bold" font-size="9.5" text-anchor="start" fill="#000" transform="translate(175.70 584.60) scale(0.929 0.971) rotate(0)">500</text>
<text font-family="Liberation Serif" font-weight="bold" font-size="9.5" text-anchor="start" fill="#000" transform="translate(209.89 584.60) scale(0.906 0.971) rotate(0)">1000</text>
<text font-family="Liberation Serif" font-weight="bold" font-size="9.5" text-anchor="start" fill="#000" transform="translate(248.00 584.60) scale(0.847 0.971) rotate(0)">2000</text>
<text font-family="Liberation Serif" font-weight="bold" font-size="10" text-anchor="start" fill="#000" transform="translate(130.70 624.00) scale(1.021 1.114) rotate(0)">BGT (µg/mL)</text>
<rect x="247.90" y="462.00" width="4.40" height="4.90" fill="url(#gLav)" />
<text font-family="Liberation Serif" font-weight="bold" font-size="9.5" text-anchor="start" fill="#000" transform="translate(255.50 468.70) scale(0.859 1.057) rotate(0)">TA100</text>
<rect x="247.90" y="479.30" width="4.40" height="4.50" fill="url(#gPur)" />
<text font-family="Liberation Serif" font-weight="bold" font-size="9.5" text-anchor="start" fill="#000" transform="translate(255.50 485.80) scale(0.873 1.071) rotate(0)">TA98</text>
<text font-family="Liberation Serif" font-weight="bold" font-size="24" text-anchor="start" fill="#000" transform="translate(0.25 649.78) scale(0.855 0.924) rotate(0)">(f)</text>
<text font-family="Liberation Serif" font-weight="bold" font-size="15" text-anchor="start" fill="#000" transform="translate(117.34 666.70) scale(0.962 0.980) rotate(0)">Comet assay</text>
<polygon points="66.8,790.6 238.8,790.0 268.3,761.2 96.0,760.4" fill="#fff" stroke="#c4c4c4" stroke-width="0.9"/>
<line x1="66.80" y1="727.00" x2="66.80" y2="791.50" stroke="#9a9a9a" stroke-width="0.9" />
<line x1="63.80" y1="790.60" x2="66.80" y2="790.60" stroke="#9a9a9a" stroke-width="0.9" />
<line x1="63.80" y1="758.80" x2="66.80" y2="758.80" stroke="#9a9a9a" stroke-width="0.9" />
<line x1="63.80" y1="727.00" x2="66.80" y2="727.00" stroke="#9a9a9a" stroke-width="0.9" />
<line x1="67.00" y1="790.60" x2="67.00" y2="793.40" stroke="#a0a0a0" stroke-width="0.8" />
<line x1="95.60" y1="790.60" x2="95.60" y2="793.40" stroke="#a0a0a0" stroke-width="0.8" />
<line x1="124.20" y1="790.60" x2="124.20" y2="793.40" stroke="#a0a0a0" stroke-width="0.8" />
<line x1="152.80" y1="790.60" x2="152.80" y2="793.40" stroke="#a0a0a0" stroke-width="0.8" />
<line x1="181.40" y1="790.60" x2="181.40" y2="793.40" stroke="#a0a0a0" stroke-width="0.8" />
<line x1="210.00" y1="790.60" x2="210.00" y2="793.40" stroke="#a0a0a0" stroke-width="0.8" />
<line x1="238.60" y1="790.60" x2="238.60" y2="793.40" stroke="#a0a0a0" stroke-width="0.8" />
<text font-family="Liberation Serif" font-weight="bold" font-size="9" text-anchor="start" fill="#000" transform="translate(46.92 730.60) scale(0.983 1.033) rotate(0)">100</text>
<text font-family="Liberation Serif" font-weight="bold" font-size="9" text-anchor="start" fill="#000" transform="translate(52.90 761.60) scale(0.756 1.000) rotate(0)">50</text>
<text font-family="Liberation Serif" font-weight="bold" font-size="9" text-anchor="start" fill="#000" transform="translate(56.20 793.60) scale(0.875 1.000) rotate(0)">0</text>
<polygon points="108.80,767.20 112.40,763.60 112.40,762.70 108.80,766.30" fill="#5c8a1e"/>
<rect x="98.20" y="766.30" width="10.60" height="0.90" fill="url(#f3g)"/>
<rect x="98.20" y="766.30" width="3.71" height="0.90" fill="#fff" opacity="0.12"/>
<polygon points="98.20,766.30 108.80,766.30 112.40,762.70 101.80,762.70" fill="#b0dc64"/>
<line x1="98.20" y1="767.20" x2="108.80" y2="767.20" stroke="#4e7a18" stroke-width="0.6"/>
<polygon points="137.40,767.20 141.00,763.60 141.00,745.18 137.40,748.78" fill="#5c8a1e"/>
<rect x="126.80" y="748.78" width="10.60" height="18.42" fill="url(#f3g)"/>
<rect x="126.80" y="748.78" width="3.71" height="18.42" fill="#fff" opacity="0.12"/>
<polygon points="126.80,748.78 137.40,748.78 141.00,745.18 130.40,745.18" fill="#b0dc64"/>
<line x1="126.80" y1="767.20" x2="137.40" y2="767.20" stroke="#4e7a18" stroke-width="0.6"/>
<polygon points="166.00,767.20 169.60,763.60 169.60,762.70 166.00,766.30" fill="#5c8a1e"/>
<rect x="155.40" y="766.30" width="10.60" height="0.90" fill="url(#f3g)"/>
<rect x="155.40" y="766.30" width="3.71" height="0.90" fill="#fff" opacity="0.12"/>
<polygon points="155.40,766.30 166.00,766.30 169.60,762.70 159.00,762.70" fill="#b0dc64"/>
<line x1="155.40" y1="767.20" x2="166.00" y2="767.20" stroke="#4e7a18" stroke-width="0.6"/>
<polygon points="194.60,767.20 198.20,763.60 198.20,761.71 194.60,765.31" fill="#5c8a1e"/>
<rect x="184.00" y="765.31" width="10.60" height="1.89" fill="url(#f3g)"/>
<rect x="184.00" y="765.31" width="3.71" height="1.89" fill="#fff" opacity="0.12"/>
<polygon points="184.00,765.31 194.60,765.31 198.20,761.71 187.60,761.71" fill="#b0dc64"/>
<line x1="184.00" y1="767.20" x2="194.60" y2="767.20" stroke="#4e7a18" stroke-width="0.6"/>
<polygon points="223.20,767.20 226.80,763.60 226.80,759.80 223.20,763.40" fill="#5c8a1e"/>
<rect x="212.60" y="763.40" width="10.60" height="3.80" fill="url(#f3g)"/>
<rect x="212.60" y="763.40" width="3.71" height="3.80" fill="#fff" opacity="0.12"/>
<polygon points="212.60,763.40 223.20,763.40 226.80,759.80 216.20,759.80" fill="#b0dc64"/>
<line x1="212.60" y1="767.20" x2="223.20" y2="767.20" stroke="#4e7a18" stroke-width="0.6"/>
<polygon points="251.80,767.20 255.40,763.60 255.40,759.80 251.80,763.40" fill="#5c8a1e"/>
<rect x="241.20" y="763.40" width="10.60" height="3.80" fill="url(#f3g)"/>
<rect x="241.20" y="763.40" width="3.71" height="3.80" fill="#fff" opacity="0.12"/>
<polygon points="241.20,763.40 251.80,763.40 255.40,759.80 244.80,759.80" fill="#b0dc64"/>
<line x1="241.20" y1="767.20" x2="251.80" y2="767.20" stroke="#4e7a18" stroke-width="0.6"/>
<polygon points="98.90,777.10 102.50,773.50 102.50,772.60 98.90,776.20" fill="#8a1414"/>
<rect x="88.30" y="776.20" width="10.60" height="0.90" fill="url(#f3r)"/>
<rect x="88.30" y="776.20" width="3.71" height="0.90" fill="#fff" opacity="0.12"/>
<polygon points="88.30,776.20 98.90,776.20 102.50,772.60 91.90,772.60" fill="#e05454"/>
<line x1="88.30" y1="777.10" x2="98.90" y2="777.10" stroke="#7a1010" stroke-width="0.6"/>
<polygon points="127.50,777.10 131.10,773.50 131.10,733.45 127.50,737.05" fill="#8a1414"/>
<rect x="116.90" y="737.05" width="10.60" height="40.05" fill="url(#f3r)"/>
<rect x="116.90" y="737.05" width="3.71" height="40.05" fill="#fff" opacity="0.12"/>
<polygon points="116.90,737.05 127.50,737.05 131.10,733.45 120.50,733.45" fill="#e05454"/>
<line x1="116.90" y1="777.10" x2="127.50" y2="777.10" stroke="#7a1010" stroke-width="0.6"/>
<polygon points="156.10,777.10 159.70,773.50 159.70,772.25 156.10,775.85" fill="#8a1414"/>
<rect x="145.50" y="775.85" width="10.60" height="1.25" fill="url(#f3r)"/>
<rect x="145.50" y="775.85" width="3.71" height="1.25" fill="#fff" opacity="0.12"/>
<polygon points="145.50,775.85 156.10,775.85 159.70,772.25 149.10,772.25" fill="#e05454"/>
<line x1="145.50" y1="777.10" x2="156.10" y2="777.10" stroke="#7a1010" stroke-width="0.6"/>
<polygon points="184.70,777.10 188.30,773.50 188.30,770.34 184.70,773.94" fill="#8a1414"/>
<rect x="174.10" y="773.94" width="10.60" height="3.16" fill="url(#f3r)"/>
<rect x="174.10" y="773.94" width="3.71" height="3.16" fill="#fff" opacity="0.12"/>
<polygon points="174.10,773.94 184.70,773.94 188.30,770.34 177.70,770.34" fill="#e05454"/>
<line x1="174.10" y1="777.10" x2="184.70" y2="777.10" stroke="#7a1010" stroke-width="0.6"/>
<polygon points="213.30,777.10 216.90,773.50 216.90,767.80 213.30,771.40" fill="#8a1414"/>
<rect x="202.70" y="771.40" width="10.60" height="5.70" fill="url(#f3r)"/>
<rect x="202.70" y="771.40" width="3.71" height="5.70" fill="#fff" opacity="0.12"/>
<polygon points="202.70,771.40 213.30,771.40 216.90,767.80 206.30,767.80" fill="#e05454"/>
<line x1="202.70" y1="777.10" x2="213.30" y2="777.10" stroke="#7a1010" stroke-width="0.6"/>
<polygon points="241.90,777.10 245.50,773.50 245.50,764.62 241.90,768.22" fill="#8a1414"/>
<rect x="231.30" y="768.22" width="10.60" height="8.88" fill="url(#f3r)"/>
<rect x="231.30" y="768.22" width="3.71" height="8.88" fill="#fff" opacity="0.12"/>
<polygon points="231.30,768.22 241.90,768.22 245.50,764.62 234.90,764.62" fill="#e05454"/>
<line x1="231.30" y1="777.10" x2="241.90" y2="777.10" stroke="#7a1010" stroke-width="0.6"/>
<polygon points="89.00,787.00 92.60,783.40 92.60,774.52 89.00,778.12" fill="#1a4a94"/>
<rect x="78.40" y="778.12" width="10.60" height="8.88" fill="url(#f3b)"/>
<rect x="78.40" y="778.12" width="3.71" height="8.88" fill="#fff" opacity="0.12"/>
<polygon points="78.40,778.12 89.00,778.12 92.60,774.52 82.00,774.52" fill="#5a92e2"/>
<line x1="78.40" y1="787.00" x2="89.00" y2="787.00" stroke="#1a3e80" stroke-width="0.6"/>
<polygon points="117.60,787.00 121.20,783.40 121.20,732.54 117.60,736.14" fill="#1a4a94"/>
<rect x="107.00" y="736.14" width="10.60" height="50.86" fill="url(#f3b)"/>
<rect x="107.00" y="736.14" width="3.71" height="50.86" fill="#fff" opacity="0.12"/>
<polygon points="107.00,736.14 117.60,736.14 121.20,732.54 110.60,732.54" fill="#5a92e2"/>
<line x1="107.00" y1="787.00" x2="117.60" y2="787.00" stroke="#1a3e80" stroke-width="0.6"/>
<polygon points="146.20,787.00 149.80,783.40 149.80,775.15 146.20,778.75" fill="#1a4a94"/>
<rect x="135.60" y="778.75" width="10.60" height="8.25" fill="url(#f3b)"/>
<rect x="135.60" y="778.75" width="3.71" height="8.25" fill="#fff" opacity="0.12"/>
<polygon points="135.60,778.75 146.20,778.75 149.80,775.15 139.20,775.15" fill="#5a92e2"/>
<line x1="135.60" y1="787.00" x2="146.20" y2="787.00" stroke="#1a3e80" stroke-width="0.6"/>
<polygon points="174.80,787.00 178.40,783.40 178.40,773.24 174.80,776.84" fill="#1a4a94"/>
<rect x="164.20" y="776.84" width="10.60" height="10.16" fill="url(#f3b)"/>
<rect x="164.20" y="776.84" width="3.71" height="10.16" fill="#fff" opacity="0.12"/>
<polygon points="164.20,776.84 174.80,776.84 178.40,773.24 167.80,773.24" fill="#5a92e2"/>
<line x1="164.20" y1="787.00" x2="174.80" y2="787.00" stroke="#1a3e80" stroke-width="0.6"/>
<polygon points="203.40,787.00 207.00,783.40 207.00,771.97 203.40,775.57" fill="#1a4a94"/>
<rect x="192.80" y="775.57" width="10.60" height="11.43" fill="url(#f3b)"/>
<rect x="192.80" y="775.57" width="3.71" height="11.43" fill="#fff" opacity="0.12"/>
<polygon points="192.80,775.57 203.40,775.57 207.00,771.97 196.40,771.97" fill="#5a92e2"/>
<line x1="192.80" y1="787.00" x2="203.40" y2="787.00" stroke="#1a3e80" stroke-width="0.6"/>
<polygon points="232.00,787.00 235.60,783.40 235.60,772.61 232.00,776.21" fill="#1a4a94"/>
<rect x="221.40" y="776.21" width="10.60" height="10.79" fill="url(#f3b)"/>
<rect x="221.40" y="776.21" width="3.71" height="10.79" fill="#fff" opacity="0.12"/>
<polygon points="221.40,776.21 232.00,776.21 235.60,772.61 225.00,772.61" fill="#5a92e2"/>
<line x1="221.40" y1="787.00" x2="232.00" y2="787.00" stroke="#1a3e80" stroke-width="0.6"/>
<text font-family="Liberation Serif" font-weight="bold" font-size="8.6" text-anchor="end" fill="#000" transform="translate(84.00 803.10) scale(1.000 1.000) rotate(-45)">Control</text>
<text font-family="Liberation Serif" font-weight="bold" font-size="8.6" text-anchor="end" fill="#000" transform="translate(111.30 803.10) scale(1.000 1.000) rotate(-45)">PC</text>
<text font-family="Liberation Serif" font-weight="bold" font-size="8.6" text-anchor="end" fill="#000" transform="translate(140.60 803.10) scale(1.000 1.000) rotate(-45)">250</text>
<text font-family="Liberation Serif" font-weight="bold" font-size="8.6" text-anchor="end" fill="#000" transform="translate(169.30 803.80) scale(1.000 1.000) rotate(-45)">500</text>
<text font-family="Liberation Serif" font-weight="bold" font-size="8.6" text-anchor="end" fill="#000" transform="translate(197.70 802.80) scale(1.000 1.000) rotate(-45)">1000</text>
<text font-family="Liberation Serif" font-weight="bold" font-size="8.6" text-anchor="end" fill="#000" transform="translate(226.30 802.80) scale(1.000 1.000) rotate(-45)">2000</text>
<text font-family="Liberation Serif" font-weight="bold" font-size="10" text-anchor="start" fill="#000" transform="translate(80.90 844.00) scale(0.958 1.029) rotate(0)">Different concentrations of BGT (µg/mL)</text>
<rect x="245.30" y="707.30" width="3.60" height="3.10" fill="#2f6ccc" />
<text font-family="Liberation Serif"  font-size="6.5" text-anchor="start" fill="#222" transform="translate(250.24 711.20) scale(1.064 1.025) rotate(0)">TailDNAPercent</text>
<rect x="245.30" y="718.00" width="3.60" height="3.10" fill="#cc2424" />
<text font-family="Liberation Serif"  font-size="6.5" text-anchor="start" fill="#222" transform="translate(250.20 722.20) scale(1.103 1.100) rotate(0)">TailMoment</text>
<rect x="245.30" y="729.50" width="3.60" height="3.10" fill="#8ec43a" />
<text font-family="Liberation Serif"  font-size="6.5" text-anchor="start" fill="#222" transform="translate(251.30 734.00) scale(1.044 1.175) rotate(0)">OliveMoment</text>
<text font-family="Liberation Serif" font-weight="bold" font-size="24" text-anchor="start" fill="#000" transform="translate(332.87 16.78) scale(1.030 1.024) rotate(0)">(b)</text>
<text font-family="Liberation Serif" font-weight="bold" font-size="14" text-anchor="start" fill="#000" transform="translate(501.30 18.10) scale(1.025 1.010) rotate(0)">L132 cells</text>
<rect x="362.10" y="25.80" width="100.80" height="82.90" fill="#c0c1c5"/>
<rect x="362.10" y="25.80" width="100.80" height="82.90" fill="#e8e8e2" filter="url(#cellF)" opacity="0.55"/>
<rect x="362.10" y="25.80" width="100.80" height="82.90" fill="#808086" filter="url(#cellWF)" opacity="0.16"/>
<rect x="467.00" y="25.80" width="100.70" height="83.00" fill="#cad7d5"/>
<rect x="467.00" y="25.80" width="100.70" height="83.00" fill="#f2f8f6" filter="url(#fine)" opacity="0.5"/>
<g fill="#8c9690" opacity="0.7"><circle cx="500.3" cy="39.7" r="0.68"/><circle cx="476.0" cy="70.1" r="0.53"/><circle cx="474.6" cy="67.9" r="0.37"/><circle cx="510.9" cy="33.3" r="0.40"/><circle cx="510.1" cy="93.1" r="0.41"/><circle cx="490.6" cy="77.4" r="0.82"/><circle cx="524.8" cy="59.1" r="0.84"/><circle cx="473.5" cy="95.6" r="0.49"/><circle cx="482.9" cy="37.1" r="0.50"/><circle cx="547.9" cy="42.1" r="0.64"/><circle cx="530.8" cy="57.2" r="0.62"/><circle cx="475.1" cy="32.5" r="0.45"/><circle cx="534.8" cy="61.6" r="0.51"/><circle cx="525.6" cy="63.6" r="0.50"/><circle cx="545.8" cy="83.0" r="0.47"/><circle cx="524.5" cy="69.3" r="0.79"/><circle cx="539.5" cy="50.5" r="0.84"/><circle cx="480.4" cy="60.8" r="0.73"/><circle cx="483.7" cy="66.4" r="0.37"/><circle cx="533.6" cy="88.2" r="0.64"/><circle cx="553.7" cy="52.6" r="0.70"/><circle cx="526.5" cy="73.6" r="0.58"/><circle cx="550.2" cy="102.4" r="0.59"/><circle cx="533.2" cy="32.6" r="0.70"/><circle cx="531.6" cy="106.3" r="0.76"/><circle cx="496.5" cy="58.3" r="0.68"/><circle cx="471.2" cy="64.3" r="0.43"/><circle cx="480.3" cy="32.5" r="0.73"/><circle cx="481.5" cy="47.4" r="0.55"/><circle cx="553.3" cy="34.2" r="0.57"/><circle cx="522.1" cy="97.6" r="0.76"/><circle cx="552.5" cy="49.8" r="0.56"/><circle cx="503.7" cy="97.7" r="0.83"/><circle cx="483.6" cy="41.7" r="0.47"/><circle cx="491.6" cy="66.1" r="0.64"/><circle cx="494.4" cy="28.1" r="0.56"/><circle cx="504.7" cy="72.5" r="0.83"/><circle cx="535.8" cy="68.5" r="0.66"/><circle cx="534.4" cy="32.1" r="0.80"/><circle cx="544.4" cy="96.9" r="0.75"/><circle cx="506.9" cy="59.3" r="0.40"/><circle cx="530.3" cy="32.7" r="0.38"/><circle cx="489.2" cy="40.6" r="0.52"/><circle cx="474.1" cy="27.8" r="0.43"/><circle cx="478.8" cy="56.5" r="0.36"/><circle cx="553.5" cy="76.3" r="0.42"/><circle cx="493.4" cy="55.2" r="0.53"/><circle cx="480.9" cy="94.9" r="0.85"/><circle cx="514.1" cy="66.0" r="0.39"/><circle cx="478.9" cy="54.9" r="0.48"/><circle cx="549.2" cy="40.6" r="0.36"/><circle cx="561.0" cy="69.5" r="0.42"/><circle cx="521.5" cy="29.9" r="0.61"/><circle cx="563.6" cy="96.0" r="0.70"/><circle cx="494.2" cy="56.8" r="0.43"/><circle cx="543.6" cy="69.9" r="0.74"/><circle cx="500.9" cy="45.4" r="0.76"/><circle cx="564.2" cy="95.2" r="0.75"/><circle cx="548.1" cy="86.2" r="0.46"/><circle cx="519.1" cy="55.9" r="0.36"/><circle cx="471.7" cy="49.9" r="0.48"/><circle cx="536.0" cy="103.4" r="0.57"/><circle cx="559.6" cy="105.9" r="0.83"/><circle cx="504.3" cy="45.2" r="0.46"/><circle cx="488.0" cy="43.9" r="0.66"/><circle cx="556.1" cy="94.2" r="0.59"/><circle cx="532.1" cy="91.0" r="0.39"/><circle cx="532.9" cy="99.7" r="0.74"/><circle cx="541.5" cy="65.6" r="0.44"/><circle cx="545.3" cy="54.1" r="0.75"/><circle cx="563.0" cy="59.1" r="0.55"/><circle cx="560.6" cy="85.1" r="0.44"/><circle cx="481.3" cy="39.7" r="0.80"/><circle cx="547.0" cy="39.3" r="0.76"/><circle cx="563.8" cy="79.7" r="0.53"/><circle cx="522.1" cy="38.1" r="0.36"/><circle cx="562.9" cy="79.1" r="0.61"/><circle cx="559.3" cy="62.1" r="0.79"/><circle cx="548.9" cy="44.5" r="0.48"/><circle cx="497.3" cy="46.8" r="0.64"/><circle cx="494.1" cy="60.9" r="0.42"/><circle cx="557.0" cy="55.7" r="0.58"/><circle cx="525.4" cy="99.2" r="0.56"/><circle cx="557.7" cy="67.4" r="0.62"/><circle cx="519.6" cy="29.3" r="0.57"/><circle cx="486.7" cy="28.1" r="0.75"/><circle cx="485.7" cy="65.2" r="0.71"/><circle cx="522.8" cy="53.6" r="0.61"/><circle cx="522.7" cy="89.8" r="0.40"/><circle cx="523.2" cy="47.4" r="0.49"/><circle cx="543.7" cy="67.9" r="0.63"/><circle cx="542.5" cy="99.9" r="0.57"/><circle cx="528.2" cy="67.7" r="0.61"/><circle cx="536.0" cy="63.5" r="0.62"/><circle cx="515.2" cy="102.2" r="0.70"/><circle cx="553.8" cy="102.2" r="0.48"/><circle cx="523.1" cy="102.3" r="0.77"/><circle cx="482.3" cy="37.4" r="0.57"/><circle cx="476.0" cy="46.8" r="0.39"/><circle cx="533.7" cy="89.7" r="0.80"/><circle cx="483.9" cy="84.4" r="0.68"/><circle cx="482.8" cy="97.5" r="0.83"/><circle cx="490.2" cy="103.0" r="0.55"/><circle cx="516.1" cy="106.0" r="0.77"/><circle cx="484.6" cy="61.9" r="0.61"/><circle cx="501.8" cy="43.3" r="0.51"/><circle cx="538.8" cy="29.3" r="0.63"/><circle cx="511.6" cy="29.2" r="0.52"/><circle cx="529.3" cy="68.3" r="0.38"/><circle cx="564.3" cy="90.1" r="0.84"/><circle cx="479.1" cy="48.8" r="0.37"/><circle cx="544.3" cy="49.2" r="0.41"/><circle cx="509.8" cy="99.8" r="0.76"/><circle cx="494.0" cy="39.6" r="0.81"/><circle cx="524.2" cy="83.1" r="0.39"/><circle cx="474.6" cy="82.2" r="0.56"/><circle cx="476.0" cy="101.9" r="0.67"/><circle cx="546.5" cy="34.4" r="0.78"/><circle cx="475.4" cy="96.0" r="0.58"/><circle cx="501.8" cy="71.5" r="0.81"/><circle cx="494.9" cy="38.0" r="0.61"/><circle cx="492.1" cy="36.4" r="0.43"/><circle cx="473.9" cy="43.7" r="0.51"/><circle cx="498.5" cy="87.8" r="0.49"/><circle cx="517.4" cy="41.9" r="0.52"/><circle cx="470.8" cy="47.6" r="0.36"/><circle cx="539.9" cy="71.3" r="0.44"/><circle cx="514.9" cy="101.6" r="0.40"/><circle cx="548.2" cy="61.9" r="0.60"/><circle cx="549.7" cy="58.9" r="0.60"/><circle cx="535.5" cy="105.4" r="0.52"/><circle cx="549.5" cy="83.6" r="0.67"/><circle cx="508.1" cy="55.3" r="0.38"/><circle cx="481.6" cy="33.4" r="0.72"/><circle cx="493.7" cy="40.7" r="0.39"/><circle cx="550.4" cy="96.6" r="0.69"/><circle cx="496.3" cy="46.9" r="0.50"/><circle cx="513.4" cy="40.2" r="0.57"/><circle cx="494.5" cy="103.8" r="0.84"/><circle cx="521.9" cy="47.1" r="0.83"/><circle cx="498.9" cy="56.0" r="0.35"/><circle cx="505.9" cy="65.3" r="0.60"/><circle cx="488.4" cy="67.7" r="0.35"/><circle cx="494.5" cy="34.9" r="0.55"/><circle cx="473.0" cy="29.6" r="0.50"/><circle cx="491.5" cy="74.1" r="0.61"/><circle cx="541.6" cy="79.7" r="0.71"/><circle cx="554.0" cy="58.6" r="0.51"/><circle cx="564.2" cy="39.6" r="0.71"/><circle cx="531.2" cy="31.3" r="0.77"/><circle cx="555.3" cy="77.4" r="0.72"/><circle cx="547.5" cy="38.8" r="0.61"/><circle cx="517.8" cy="93.8" r="0.75"/><circle cx="548.9" cy="73.9" r="0.80"/><circle cx="535.0" cy="82.6" r="0.46"/><circle cx="472.0" cy="38.3" r="0.53"/><circle cx="479.1" cy="93.8" r="0.63"/><circle cx="529.7" cy="77.3" r="0.69"/><circle cx="516.3" cy="28.1" r="0.75"/><circle cx="541.4" cy="67.5" r="0.62"/><circle cx="532.8" cy="33.0" r="0.72"/><circle cx="493.4" cy="33.7" r="0.48"/><circle cx="539.5" cy="44.0" r="0.72"/><circle cx="563.4" cy="66.8" r="0.54"/><circle cx="515.3" cy="81.8" r="0.73"/><circle cx="528.7" cy="78.6" r="0.39"/><circle cx="483.3" cy="47.9" r="0.72"/><circle cx="498.4" cy="72.7" r="0.36"/><circle cx="474.9" cy="49.0" r="0.69"/><circle cx="535.9" cy="81.2" r="0.50"/></g>
<rect x="571.90" y="25.80" width="100.50" height="84.00" fill="#bdbbc4"/>
<rect x="571.90" y="25.80" width="100.50" height="84.00" fill="#e6eac6" filter="url(#cellF)" opacity="0.75"/>
<rect x="571.90" y="25.80" width="100.50" height="84.00" fill="#707080" filter="url(#cellWF)" opacity="0.14"/>
<rect x="363.90" y="116.40" width="100.20" height="85.10" fill="#b4b2b8"/>
<rect x="363.90" y="116.40" width="100.20" height="85.10" fill="#e2e2da" filter="url(#cellF)" opacity="0.55"/>
<rect x="363.90" y="116.40" width="100.20" height="85.10" fill="#686870" filter="url(#cellWF)" opacity="0.16"/>
<rect x="468.00" y="116.80" width="99.30" height="83.70" fill="#c2c8c8"/>
<rect x="468.00" y="116.80" width="99.30" height="83.70" fill="#e8f0dc" filter="url(#cellF)" opacity="0.55"/>
<rect x="468.00" y="116.80" width="99.30" height="83.70" fill="#889090" filter="url(#cellWF)" opacity="0.14"/>
<rect x="572.10" y="116.80" width="98.70" height="83.70" fill="#bab5c6"/>
<rect x="572.10" y="116.80" width="98.70" height="83.70" fill="#ecebd0" filter="url(#cellL3)" opacity="0.7"/>
<rect x="572.10" y="116.80" width="98.70" height="83.70" fill="#686478" filter="url(#cellW3)" opacity="0.24"/>
<text font-family="Liberation Serif" font-weight="bold" font-size="12" text-anchor="start" fill="#000" transform="translate(420.70 35.70) scale(0.988 0.833) rotate(0)">Control</text>
<text font-family="Liberation Serif" font-weight="bold" font-size="12" text-anchor="start" fill="#000" transform="translate(519.40 34.60) scale(0.987 0.922) rotate(0)">Cisplatin</text>
<text font-family="Liberation Serif" font-weight="bold" font-size="12" text-anchor="start" fill="#000" transform="translate(637.90 34.00) scale(0.979 0.900) rotate(0)">250 µg</text>
<text font-family="Liberation Serif" font-weight="bold" font-size="12" text-anchor="start" fill="#000" transform="translate(429.60 126.80) scale(0.982 1.012) rotate(0)">500 µg</text>
<text font-family="Liberation Serif" font-weight="bold" font-size="12" text-anchor="start" fill="#000" transform="translate(533.10 128.00) scale(0.997 1.050) rotate(0)">750 µg</text>
<text font-family="Liberation Serif" font-weight="bold" font-size="12" text-anchor="start" fill="#000" transform="translate(630.50 128.00) scale(0.997 1.050) rotate(0)">1000 µg</text>
<line x1="537.80" y1="40.30" x2="529.88" y2="51.36" stroke="#111" stroke-width="1.8"/>
<polygon points="527.20,55.10 528.07,49.08 529.78,51.50 532.62,52.34" fill="#111"/>
<line x1="505.10" y1="75.30" x2="497.34" y2="83.63" stroke="#111" stroke-width="1.8"/>
<polygon points="494.20,87.00 495.83,81.14 497.22,83.76 499.93,84.96" fill="#111"/>
<line x1="545.40" y1="71.00" x2="537.79" y2="79.39" stroke="#111" stroke-width="1.8"/>
<polygon points="534.70,82.80 536.25,76.92 537.67,79.52 540.40,80.68" fill="#111"/>
<line x1="560.20" y1="79.20" x2="557.61" y2="93.77" stroke="#111" stroke-width="1.8"/>
<polygon points="556.80,98.30 554.99,92.49 557.58,93.94 560.50,93.47" fill="#111"/>
<line x1="531.00" y1="185.00" x2="534.27" y2="164.54" stroke="#111" stroke-width="1.8"/>
<polygon points="535.00,160.00 536.91,165.77 534.30,164.37 531.38,164.89" fill="#111"/>
<line x1="603.50" y1="163.80" x2="600.75" y2="152.08" stroke="#111" stroke-width="1.8"/>
<polygon points="599.70,147.60 603.66,152.22 600.71,151.91 598.21,153.50" fill="#111"/>
<text font-family="Liberation Serif" font-weight="bold" font-size="24" text-anchor="start" fill="#000" transform="translate(332.87 226.75) scale(1.033 0.990) rotate(0)">(d)</text>
<text font-family="Liberation Serif" font-weight="bold" font-size="14" text-anchor="start" fill="#000" transform="translate(485.60 224.00) scale(1.016 0.940) rotate(0)">PBMC cells</text>
<rect x="364.80" y="238.40" width="98.60" height="79.70" fill="#60928b"/>
<rect x="364.80" y="238.40" width="98.60" height="79.70" fill="#a8cccc" filter="url(#coarse)" opacity="0.12"/>
<rect x="364.80" y="238.40" width="98.60" height="79.70" fill="#cfe4e2" filter="url(#fine)" opacity="0.12"/>
<rect x="468.10" y="238.30" width="98.00" height="79.80" fill="#829c92"/>
<rect x="468.10" y="238.30" width="98.00" height="79.80" fill="#a8cccc" filter="url(#coarse)" opacity="0.12"/>
<rect x="468.10" y="238.30" width="98.00" height="79.80" fill="#cfe4e2" filter="url(#fine)" opacity="0.12"/>
<radialGradient id="h2o2g" cx="0.55" cy="0.5" r="0.6"><stop offset="0" stop-color="#a0b2a4" stop-opacity="0.5"/><stop offset="1" stop-color="#a0b2a4" stop-opacity="0"/></radialGradient>
<rect x="468.10" y="238.30" width="98.00" height="79.80" fill="url(#h2o2g)" />
<rect x="570.30" y="238.80" width="98.00" height="78.80" fill="#688884"/>
<rect x="570.30" y="238.80" width="98.00" height="78.80" fill="#a8cccc" filter="url(#coarse)" opacity="0.12"/>
<rect x="570.30" y="238.80" width="98.00" height="78.80" fill="#cfe4e2" filter="url(#fine)" opacity="0.12"/>
<rect x="365.10" y="332.30" width="98.80" height="79.30" fill="#5c827f"/>
<rect x="365.10" y="332.30" width="98.80" height="79.30" fill="#a8cccc" filter="url(#coarse)" opacity="0.12"/>
<rect x="365.10" y="332.30" width="98.80" height="79.30" fill="#cfe4e2" filter="url(#fine)" opacity="0.12"/>
<rect x="468.10" y="332.30" width="98.00" height="79.30" fill="#5c8886"/>
<rect x="468.10" y="332.30" width="98.00" height="79.30" fill="#a8cccc" filter="url(#coarse)" opacity="0.12"/>
<rect x="468.10" y="332.30" width="98.00" height="79.30" fill="#cfe4e2" filter="url(#fine)" opacity="0.12"/>
<rect x="568.80" y="332.30" width="98.30" height="79.30" fill="#467c79"/>
<rect x="568.80" y="332.30" width="98.30" height="79.30" fill="#a8cccc" filter="url(#coarse)" opacity="0.12"/>
<rect x="568.80" y="332.30" width="98.30" height="79.30" fill="#cfe4e2" filter="url(#fine)" opacity="0.12"/>
<g fill="#3c6a66" opacity="0.7"><circle cx="415.7" cy="275.6" r="0.93"/><circle cx="378.0" cy="308.1" r="0.74"/><circle cx="459.3" cy="311.3" r="0.61"/><circle cx="410.2" cy="302.5" r="1.28"/><circle cx="409.3" cy="260.7" r="0.75"/><circle cx="456.3" cy="256.4" r="1.01"/><circle cx="380.2" cy="280.1" r="1.27"/><circle cx="379.3" cy="302.5" r="0.96"/><circle cx="450.7" cy="293.6" r="0.76"/><circle cx="451.7" cy="277.2" r="0.62"/><circle cx="367.1" cy="277.6" r="0.92"/><circle cx="395.4" cy="251.1" r="0.84"/><circle cx="396.7" cy="304.0" r="0.60"/><circle cx="437.8" cy="303.9" r="0.68"/></g>
<g fill="#56706a" opacity="0.7"><circle cx="557.2" cy="294.3" r="1.23"/><circle cx="497.3" cy="268.5" r="0.88"/><circle cx="564.0" cy="285.0" r="0.85"/><circle cx="510.3" cy="261.2" r="0.63"/><circle cx="479.7" cy="303.6" r="0.80"/><circle cx="558.0" cy="259.2" r="0.79"/><circle cx="518.1" cy="254.7" r="0.86"/><circle cx="560.0" cy="307.3" r="1.17"/><circle cx="529.4" cy="309.5" r="1.26"/><circle cx="521.7" cy="294.8" r="0.63"/><circle cx="538.9" cy="274.5" r="1.13"/><circle cx="530.7" cy="262.0" r="0.63"/><circle cx="557.2" cy="250.0" r="0.93"/><circle cx="502.4" cy="262.9" r="1.12"/><circle cx="561.9" cy="260.0" r="1.06"/><circle cx="498.4" cy="282.5" r="0.88"/><circle cx="485.8" cy="252.6" r="0.75"/><circle cx="555.3" cy="278.0" r="0.75"/><circle cx="555.3" cy="315.8" r="0.91"/><circle cx="483.2" cy="254.9" r="0.66"/><circle cx="502.2" cy="247.2" r="0.77"/><circle cx="494.4" cy="283.5" r="1.22"/><circle cx="540.6" cy="271.6" r="0.89"/><circle cx="519.4" cy="268.9" r="0.84"/><circle cx="475.9" cy="261.3" r="1.28"/><circle cx="481.9" cy="278.5" r="1.04"/><circle cx="551.2" cy="256.7" r="0.79"/><circle cx="493.5" cy="270.6" r="0.91"/><circle cx="559.8" cy="304.6" r="1.21"/><circle cx="472.2" cy="242.7" r="1.10"/><circle cx="554.3" cy="276.2" r="1.01"/><circle cx="470.1" cy="270.0" r="1.25"/><circle cx="547.7" cy="305.1" r="1.28"/><circle cx="493.5" cy="248.6" r="0.71"/><circle cx="519.2" cy="292.0" r="1.26"/><circle cx="537.9" cy="289.4" r="1.14"/><circle cx="513.1" cy="282.1" r="0.63"/><circle cx="543.6" cy="257.9" r="1.24"/><circle cx="530.8" cy="263.3" r="0.69"/><circle cx="493.8" cy="288.5" r="1.09"/><circle cx="480.6" cy="245.6" r="0.97"/><circle cx="524.9" cy="269.7" r="0.76"/><circle cx="526.6" cy="241.1" r="0.81"/><circle cx="513.4" cy="313.0" r="1.05"/><circle cx="553.2" cy="276.3" r="0.76"/><circle cx="493.3" cy="313.1" r="1.09"/><circle cx="499.0" cy="242.0" r="0.95"/><circle cx="533.5" cy="272.1" r="0.78"/><circle cx="532.8" cy="310.4" r="0.76"/><circle cx="473.3" cy="265.9" r="0.89"/><circle cx="534.3" cy="255.3" r="1.16"/><circle cx="539.6" cy="278.6" r="0.74"/><circle cx="561.3" cy="263.9" r="1.17"/><circle cx="491.8" cy="257.1" r="1.13"/><circle cx="497.8" cy="312.5" r="0.95"/></g>
<g fill="#3e6464" opacity="0.7"><circle cx="589.9" cy="257.5" r="0.89"/><circle cx="634.8" cy="311.8" r="0.70"/><circle cx="609.3" cy="256.7" r="1.28"/><circle cx="585.6" cy="244.7" r="0.64"/><circle cx="609.3" cy="308.0" r="1.22"/><circle cx="641.2" cy="315.4" r="1.25"/><circle cx="603.2" cy="254.7" r="1.26"/><circle cx="642.5" cy="243.2" r="1.07"/></g>
<g fill="#3e6a66" opacity="0.7"><circle cx="403.0" cy="362.5" r="0.83"/><circle cx="383.1" cy="334.5" r="0.80"/><circle cx="400.4" cy="406.3" r="0.69"/><circle cx="458.5" cy="349.9" r="0.85"/><circle cx="445.0" cy="396.2" r="0.90"/><circle cx="371.8" cy="370.0" r="0.86"/><circle cx="454.3" cy="348.8" r="0.85"/><circle cx="452.1" cy="336.6" r="0.89"/><circle cx="444.1" cy="392.0" r="0.63"/><circle cx="370.4" cy="339.0" r="1.24"/><circle cx="391.5" cy="390.6" r="1.23"/><circle cx="399.2" cy="354.8" r="1.27"/><circle cx="425.6" cy="354.0" r="1.10"/><circle cx="397.1" cy="355.1" r="0.60"/></g>
<g fill="#3e6a66" opacity="0.7"><circle cx="541.1" cy="403.3" r="1.04"/><circle cx="558.8" cy="336.1" r="0.76"/><circle cx="514.8" cy="406.3" r="1.27"/><circle cx="506.4" cy="353.2" r="0.90"/><circle cx="516.5" cy="404.2" r="0.73"/><circle cx="545.5" cy="389.9" r="1.18"/><circle cx="542.7" cy="380.0" r="0.83"/><circle cx="500.1" cy="361.5" r="1.15"/><circle cx="477.5" cy="349.2" r="1.13"/><circle cx="493.3" cy="339.2" r="0.62"/><circle cx="522.0" cy="358.8" r="1.29"/><circle cx="553.1" cy="408.7" r="0.79"/><circle cx="478.0" cy="341.6" r="0.95"/><circle cx="536.8" cy="368.0" r="0.76"/></g>
<g fill="#2e5c58" opacity="0.7"><circle cx="610.1" cy="381.0" r="1.07"/><circle cx="641.3" cy="398.1" r="1.07"/><circle cx="582.2" cy="397.6" r="0.81"/><circle cx="624.3" cy="362.4" r="1.12"/><circle cx="589.6" cy="352.9" r="0.77"/><circle cx="585.3" cy="400.9" r="1.00"/><circle cx="601.6" cy="364.1" r="1.29"/><circle cx="618.6" cy="351.7" r="1.17"/><circle cx="632.4" cy="408.9" r="0.67"/><circle cx="615.6" cy="396.0" r="1.19"/><circle cx="657.0" cy="337.3" r="0.81"/><circle cx="582.0" cy="348.6" r="1.28"/><circle cx="625.8" cy="404.3" r="0.86"/><circle cx="652.5" cy="368.1" r="0.78"/><circle cx="644.1" cy="405.5" r="0.67"/><circle cx="627.0" cy="381.0" r="0.75"/><circle cx="605.6" cy="344.9" r="0.74"/><circle cx="594.8" cy="379.4" r="1.06"/><circle cx="590.0" cy="335.2" r="0.83"/><circle cx="634.8" cy="348.2" r="0.82"/><circle cx="590.0" cy="394.2" r="0.98"/><circle cx="576.8" cy="341.9" r="0.88"/><circle cx="622.7" cy="382.4" r="0.66"/><circle cx="586.2" cy="386.7" r="0.89"/><circle cx="597.5" cy="357.5" r="1.27"/><circle cx="600.3" cy="377.0" r="0.85"/><circle cx="610.1" cy="399.4" r="1.30"/><circle cx="605.1" cy="349.1" r="1.11"/><circle cx="590.0" cy="334.7" r="1.23"/><circle cx="610.8" cy="396.1" r="0.88"/></g>
<g fill="#e8f4f4" opacity="0.8"><circle cx="655.3" cy="275.3" r="0.47"/><circle cx="573.7" cy="282.1" r="0.66"/><circle cx="657.8" cy="247.5" r="0.65"/><circle cx="607.2" cy="278.5" r="0.46"/><circle cx="598.9" cy="279.8" r="0.77"/><circle cx="582.5" cy="277.5" r="0.72"/><circle cx="663.2" cy="255.6" r="0.45"/><circle cx="660.9" cy="313.8" r="0.59"/><circle cx="577.3" cy="310.1" r="0.56"/><circle cx="657.3" cy="287.2" r="0.73"/><circle cx="587.4" cy="299.6" r="0.49"/><circle cx="610.3" cy="304.1" r="0.73"/><circle cx="589.5" cy="257.1" r="0.56"/><circle cx="621.0" cy="269.5" r="0.45"/><circle cx="595.5" cy="295.0" r="0.76"/><circle cx="576.2" cy="282.9" r="0.70"/><circle cx="575.9" cy="303.5" r="0.45"/><circle cx="628.7" cy="281.9" r="0.65"/><circle cx="601.1" cy="272.2" r="0.63"/><circle cx="612.3" cy="290.1" r="0.58"/><circle cx="613.5" cy="242.5" r="0.65"/><circle cx="618.3" cy="258.4" r="0.71"/><circle cx="645.6" cy="275.1" r="0.47"/><circle cx="616.8" cy="248.8" r="0.45"/><circle cx="612.8" cy="247.7" r="0.58"/><circle cx="620.3" cy="243.8" r="0.65"/><circle cx="580.0" cy="295.7" r="0.71"/><circle cx="620.4" cy="244.9" r="0.60"/><circle cx="607.8" cy="311.9" r="0.45"/><circle cx="652.9" cy="315.3" r="0.69"/></g>
<g fill="#d0e4e4" opacity="0.7"><circle cx="443.9" cy="255.1" r="0.79"/><circle cx="413.3" cy="312.8" r="0.77"/><circle cx="382.4" cy="300.1" r="0.77"/><circle cx="373.0" cy="267.0" r="0.70"/><circle cx="381.8" cy="308.3" r="0.51"/><circle cx="444.0" cy="251.3" r="0.60"/><circle cx="453.8" cy="256.2" r="0.51"/><circle cx="414.7" cy="264.6" r="0.41"/><circle cx="384.0" cy="252.6" r="0.77"/><circle cx="431.1" cy="308.2" r="0.47"/><circle cx="441.0" cy="249.1" r="0.61"/><circle cx="427.0" cy="267.6" r="0.75"/><circle cx="419.3" cy="284.3" r="0.75"/><circle cx="376.7" cy="315.6" r="0.65"/><circle cx="404.1" cy="300.8" r="0.51"/><circle cx="460.5" cy="284.1" r="0.54"/><circle cx="439.1" cy="273.9" r="0.47"/><circle cx="437.1" cy="244.1" r="0.73"/><circle cx="390.8" cy="288.8" r="0.79"/><circle cx="422.2" cy="290.6" r="0.53"/><circle cx="367.0" cy="243.0" r="0.46"/><circle cx="425.1" cy="273.1" r="0.61"/><circle cx="451.5" cy="250.4" r="0.49"/><circle cx="428.6" cy="242.1" r="0.40"/><circle cx="400.4" cy="248.5" r="0.54"/></g>
<path d="M444.6 290.7 L448.4 318" stroke="#c8dce4" stroke-width="4.2" opacity="0.55"/>
<path d="M444.9 291.5 L448.2 318" stroke="#34507a" stroke-width="2.0" opacity="0.9"/>
<text font-family="Liberation Serif" font-weight="bold" font-size="12" text-anchor="start" fill="#000" transform="translate(423.70 246.70) scale(0.950 0.833) rotate(0)">Control</text>
<text font-family="Liberation Serif" font-weight="bold" font-size="12" text-anchor="start" fill="#000" transform="translate(637.20 246.90) scale(0.955 0.875) rotate(0)">250µg</text>
<text font-family="Liberation Serif" font-weight="bold" font-size="12" text-anchor="start" fill="#000" transform="translate(432.00 340.60) scale(0.952 0.900) rotate(0)">500µg</text>
<text font-family="Liberation Serif" font-weight="bold" font-size="12" text-anchor="start" fill="#000" transform="translate(533.77 340.90) scale(0.927 0.938) rotate(0)">750 µg</text>
<text font-family="Liberation Serif" font-weight="bold" font-size="12" text-anchor="start" fill="#000" transform="translate(631.15 340.90) scale(0.950 0.938) rotate(0)">1000µg</text>
<text font-family="Liberation Serif" font-weight="bold" font-size="12" text-anchor="start" fill="#000" transform="translate(543.50 246.81) scale(0.983 0.964) rotate(0)">H<tspan font-size="8" dy="2.5">2</tspan><tspan dy="-2.5">0</tspan><tspan font-size="8" dy="2.5">2</tspan></text>
<line x1="494.50" y1="276.10" x2="496.99" y2="269.15" stroke="#111" stroke-width="1.8"/>
<polygon points="498.40,265.20 499.26,270.82 497.02,269.06 494.17,269.00" fill="#111"/>
<line x1="527.20" y1="272.10" x2="529.69" y2="265.15" stroke="#111" stroke-width="1.8"/>
<polygon points="531.10,261.20 531.96,266.82 529.72,265.06 526.87,265.00" fill="#111"/>
<line x1="519.70" y1="287.30" x2="522.22" y2="281.09" stroke="#111" stroke-width="1.8"/>
<polygon points="523.80,277.20 524.42,282.85 522.26,281.00 519.42,280.82" fill="#111"/>
<line x1="494.50" y1="315.30" x2="496.99" y2="308.35" stroke="#111" stroke-width="1.8"/>
<polygon points="498.40,304.40 499.26,310.02 497.02,308.26 494.17,308.20" fill="#111"/>
<line x1="527.20" y1="311.40" x2="529.69" y2="304.45" stroke="#111" stroke-width="1.8"/>
<polygon points="531.10,300.50 531.96,306.12 529.72,304.36 526.87,304.30" fill="#111"/>
<line x1="556.00" y1="315.00" x2="558.25" y2="308.38" stroke="#111" stroke-width="1.8"/>
<polygon points="559.60,304.40 560.55,310.00 558.28,308.28 555.44,308.27" fill="#111"/>
<line x1="592.10" y1="268.30" x2="594.84" y2="260.94" stroke="#111" stroke-width="1.8"/>
<polygon points="596.30,257.00 597.09,262.63 594.87,260.84 592.03,260.75" fill="#111"/>
<line x1="620.60" y1="260.60" x2="623.00" y2="253.19" stroke="#111" stroke-width="1.8"/>
<polygon points="624.30,249.20 625.32,254.79 623.03,253.10 620.19,253.12" fill="#111"/>
<line x1="368.50" y1="361.90" x2="371.33" y2="354.89" stroke="#111" stroke-width="1.8"/>
<polygon points="372.90,351.00 373.53,356.65 371.37,354.80 368.52,354.63" fill="#111"/>
<line x1="447.50" y1="377.40" x2="450.54" y2="370.36" stroke="#111" stroke-width="1.8"/>
<polygon points="452.20,366.50 452.70,372.16 450.58,370.26 447.74,370.02" fill="#111"/>
<line x1="526.90" y1="361.90" x2="529.59" y2="354.92" stroke="#111" stroke-width="1.8"/>
<polygon points="531.10,351.00 531.82,356.64 529.63,354.83 526.78,354.69" fill="#111"/>
<line x1="548.70" y1="404.70" x2="551.39" y2="397.72" stroke="#111" stroke-width="1.8"/>
<polygon points="552.90,393.80 553.62,399.44 551.43,397.63 548.58,397.49" fill="#111"/>
<line x1="577.70" y1="369.70" x2="580.39" y2="362.72" stroke="#111" stroke-width="1.8"/>
<polygon points="581.90,358.80 582.62,364.44 580.43,362.63 577.58,362.49" fill="#111"/>
<line x1="620.40" y1="377.40" x2="622.89" y2="370.45" stroke="#111" stroke-width="1.8"/>
<polygon points="624.30,366.50 625.16,372.12 622.92,370.36 620.07,370.30" fill="#111"/>
<line x1="642.20" y1="385.20" x2="644.69" y2="378.25" stroke="#111" stroke-width="1.8"/>
<polygon points="646.10,374.30 646.96,379.92 644.72,378.16 641.87,378.10" fill="#111"/>
<line x1="646.10" y1="358.00" x2="648.62" y2="350.77" stroke="#111" stroke-width="1.8"/>
<polygon points="650.00,346.80 650.91,352.41 648.65,350.67 645.81,350.63" fill="#111"/>
<line x1="595.50" y1="408.50" x2="597.97" y2="401.65" stroke="#111" stroke-width="1.8"/>
<polygon points="599.40,397.70 600.24,403.32 598.01,401.56 595.16,401.49" fill="#111"/>
<text font-family="Liberation Serif" font-weight="bold" font-size="24" text-anchor="start" fill="#000" transform="translate(331.69 441.08) scale(0.912 1.005) rotate(0)">(g)</text>
<text font-family="Liberation Serif" font-weight="bold" font-size="14" text-anchor="start" fill="#000" transform="translate(387.40 443.60) scale(1.004 0.890) rotate(0)">Acute toxicity</text>
<text font-family="Liberation Serif" font-weight="bold" font-size="14" text-anchor="start" fill="#000" transform="translate(548.07 443.80) scale(1.033 0.890) rotate(0)">Sub-acute toxicity</text>
<text font-family="Liberation Serif" font-weight="bold" font-size="12" text-anchor="start" fill="#000" transform="translate(347.10 501.27) scale(0.944 0.970) rotate(-90)">Liver</text>
<text font-family="Liberation Serif" font-weight="bold" font-size="12" text-anchor="start" fill="#000" transform="translate(347.10 566.08) scale(1.062 0.876) rotate(-90)">Heart</text>
<text font-family="Liberation Serif" font-weight="bold" font-size="12" text-anchor="start" fill="#000" transform="translate(347.10 628.32) scale(1.062 0.923) rotate(-90)">Lung</text>
<text font-family="Liberation Serif" font-weight="bold" font-size="12" text-anchor="start" fill="#000" transform="translate(347.10 696.16) scale(0.944 0.961) rotate(-90)">Kidney</text>
<clipPath id="clip1"><rect x="357.00" y="452.00" width="76.80" height="61.90"/></clipPath><g clip-path="url(#clip1)">
<rect x="357.00" y="452.00" width="76.80" height="61.90" fill="#b294da"/>
<rect x="357.00" y="452.00" width="76.80" height="61.90" fill="#dccaf6" filter="url(#coarse)" opacity="0.4"/>
<rect x="357.00" y="452.00" width="76.80" height="61.90" fill="#6a4c9c" filter="url(#nuc)" opacity="0.16"/>
<rect x="357.00" y="452.00" width="76.80" height="61.90" fill="#dccaf6" filter="url(#fine)" opacity="0.22"/>
</g>
<clipPath id="clip2"><rect x="437.80" y="452.00" width="76.80" height="61.90"/></clipPath><g clip-path="url(#clip2)">
<rect x="437.80" y="452.00" width="76.80" height="61.90" fill="#ee78d2"/>
<rect x="437.80" y="452.00" width="76.80" height="61.90" fill="#ffb8f2" filter="url(#coarse)" opacity="0.4"/>
<rect x="437.80" y="452.00" width="76.80" height="61.90" fill="#b03090" filter="url(#nuc)" opacity="0.16"/>
<rect x="437.80" y="452.00" width="76.80" height="61.90" fill="#ffb8f2" filter="url(#fine)" opacity="0.22"/>
</g>
<clipPath id="clip3"><rect x="526.60" y="452.40" width="71.00" height="60.60"/></clipPath><g clip-path="url(#clip3)">
<rect x="526.60" y="452.40" width="71.00" height="60.60" fill="#a68ad6"/>
<rect x="526.60" y="452.40" width="71.00" height="60.60" fill="#d4c2f4" filter="url(#coarse)" opacity="0.4"/>
<rect x="526.60" y="452.40" width="71.00" height="60.60" fill="#5a3c90" filter="url(#nuc)" opacity="0.16"/>
<rect x="526.60" y="452.40" width="71.00" height="60.60" fill="#d4c2f4" filter="url(#fine)" opacity="0.22"/>
</g>
<clipPath id="clip4"><rect x="601.10" y="452.40" width="71.30" height="60.60"/></clipPath><g clip-path="url(#clip4)">
<rect x="601.10" y="452.40" width="71.30" height="60.60" fill="#aa8ed8"/>
<rect x="601.10" y="452.40" width="71.30" height="60.60" fill="#d6c4f4" filter="url(#coarse)" opacity="0.4"/>
<rect x="601.10" y="452.40" width="71.30" height="60.60" fill="#5a3c90" filter="url(#nuc)" opacity="0.16"/>
<rect x="601.10" y="452.40" width="71.30" height="60.60" fill="#d6c4f4" filter="url(#fine)" opacity="0.22"/>
</g>
<clipPath id="clip5"><rect x="357.00" y="516.40" width="76.80" height="61.70"/></clipPath><g clip-path="url(#clip5)">
<rect x="357.00" y="516.40" width="76.80" height="61.70" fill="#e878cc"/>
<rect x="357.00" y="516.40" width="76.80" height="61.70" fill="#fcb2ee" filter="url(#coarse)" opacity="0.4"/>
<rect x="357.00" y="516.40" width="76.80" height="61.70" fill="#9a3a98" filter="url(#nuc)" opacity="0.16"/>
<rect x="357.00" y="516.40" width="76.80" height="61.70" fill="#fcb2ee" filter="url(#fine)" opacity="0.22"/>
</g>
<clipPath id="clip6"><rect x="437.80" y="516.40" width="76.80" height="61.70"/></clipPath><g clip-path="url(#clip6)">
<rect x="437.80" y="516.40" width="76.80" height="61.70" fill="#f294de"/>
<rect x="437.80" y="516.40" width="76.80" height="61.70" fill="#ffc6f4" filter="url(#coarse)" opacity="0.4"/>
<rect x="437.80" y="516.40" width="76.80" height="61.70" fill="#c05aa8" filter="url(#nuc)" opacity="0.16"/>
<rect x="437.80" y="516.40" width="76.80" height="61.70" fill="#ffc6f4" filter="url(#fine)" opacity="0.22"/>
</g>
<clipPath id="clip7"><rect x="526.60" y="515.60" width="71.00" height="60.00"/></clipPath><g clip-path="url(#clip7)">
<rect x="526.60" y="515.60" width="71.00" height="60.00" fill="#d88ad8"/>
<rect x="526.60" y="515.60" width="71.00" height="60.00" fill="#f2baf0" filter="url(#coarse)" opacity="0.4"/>
<rect x="526.60" y="515.60" width="71.00" height="60.00" fill="#8a3c98" filter="url(#nuc)" opacity="0.16"/>
<rect x="526.60" y="515.60" width="71.00" height="60.00" fill="#f2baf0" filter="url(#fine)" opacity="0.22"/>
</g>
<clipPath id="clip8"><rect x="601.10" y="515.60" width="71.30" height="60.00"/></clipPath><g clip-path="url(#clip8)">
<rect x="601.10" y="515.60" width="71.30" height="60.00" fill="#e49ee4"/>
<rect x="601.10" y="515.60" width="71.30" height="60.00" fill="#f8ccf6" filter="url(#coarse)" opacity="0.4"/>
<rect x="601.10" y="515.60" width="71.30" height="60.00" fill="#a04ca0" filter="url(#nuc)" opacity="0.16"/>
<rect x="601.10" y="515.60" width="71.30" height="60.00" fill="#f8ccf6" filter="url(#fine)" opacity="0.22"/>
</g>
<clipPath id="clip9"><rect x="357.00" y="581.00" width="76.80" height="62.20"/></clipPath><g clip-path="url(#clip9)">
<rect x="357.00" y="581.00" width="76.80" height="62.20" fill="#cfd2ea"/>
<rect x="357.00" y="581.00" width="76.80" height="62.20" fill="#e0589a" filter="url(#lungNet)" opacity="0.85"/>
</g>
<clipPath id="clip10"><rect x="437.80" y="581.00" width="76.80" height="62.20"/></clipPath><g clip-path="url(#clip10)">
<rect x="437.80" y="581.00" width="76.80" height="62.20" fill="#e86cc6"/>
<rect x="437.80" y="581.00" width="76.80" height="62.20" fill="#fdf6fb" filter="url(#lungHoles)" opacity="1.0"/>
</g>
<clipPath id="clip11"><rect x="526.60" y="579.10" width="71.00" height="59.90"/></clipPath><g clip-path="url(#clip11)">
<rect x="526.60" y="579.10" width="71.00" height="59.90" fill="#d08ccc"/>
<rect x="526.60" y="579.10" width="71.00" height="59.90" fill="#f0ecf8" filter="url(#foam)" opacity="0.97"/>
</g>
<clipPath id="clip12"><rect x="601.10" y="579.10" width="71.30" height="59.90"/></clipPath><g clip-path="url(#clip12)">
<rect x="601.10" y="579.10" width="71.30" height="59.90" fill="#dca4d8"/>
<rect x="601.10" y="579.10" width="71.30" height="59.90" fill="#f2eef8" filter="url(#foam2)" opacity="0.97"/>
</g>
<clipPath id="clip13"><rect x="357.00" y="646.00" width="76.80" height="61.50"/></clipPath><g clip-path="url(#clip13)">
<rect x="357.00" y="646.00" width="76.80" height="61.50" fill="#b894dc"/>
<rect x="357.00" y="646.00" width="76.80" height="61.50" fill="#dcc8f4" filter="url(#coarse)" opacity="0.4"/>
<rect x="357.00" y="646.00" width="76.80" height="61.50" fill="#f8f2fc" filter="url(#kidHoles3)" opacity="0.85"/>
<rect x="357.00" y="646.00" width="76.80" height="61.50" fill="#dcc8f4" filter="url(#fine)" opacity="0.2"/>
</g>
<clipPath id="clip14"><rect x="437.80" y="646.00" width="76.80" height="61.50"/></clipPath><g clip-path="url(#clip14)">
<rect x="437.80" y="646.00" width="76.80" height="61.50" fill="#ea6ec8"/>
<rect x="437.80" y="646.00" width="76.80" height="61.50" fill="#fdeefa" filter="url(#kidHoles2)" opacity="0.9"/>
<rect x="437.80" y="646.00" width="76.80" height="61.50" fill="#a8307e" filter="url(#nuc)" opacity="0.2"/>
</g>
<clipPath id="clip15"><rect x="526.60" y="642.60" width="71.00" height="63.00"/></clipPath><g clip-path="url(#clip15)">
<rect x="526.60" y="642.60" width="71.00" height="63.00" fill="#ac82d2"/>
<rect x="526.60" y="642.60" width="71.00" height="63.00" fill="#d8c4f2" filter="url(#coarse)" opacity="0.4"/>
<rect x="526.60" y="642.60" width="71.00" height="63.00" fill="#5c3a96" filter="url(#nuc)" opacity="0.16"/>
<rect x="526.60" y="642.60" width="71.00" height="63.00" fill="#d8c4f2" filter="url(#fine)" opacity="0.22"/>
</g>
<clipPath id="clip16"><rect x="601.10" y="642.60" width="71.30" height="63.00"/></clipPath><g clip-path="url(#clip16)">
<rect x="601.10" y="642.60" width="71.30" height="63.00" fill="#d690dc"/>
<rect x="601.10" y="642.60" width="71.30" height="63.00" fill="#f4c4f2" filter="url(#coarse)" opacity="0.4"/>
<rect x="601.10" y="642.60" width="71.30" height="63.00" fill="#8a3a96" filter="url(#nuc)" opacity="0.16"/>
<rect x="601.10" y="642.60" width="71.30" height="63.00" fill="#f4c4f2" filter="url(#fine)" opacity="0.22"/>
</g>
<clipPath id="clip17"><rect x="357.00" y="452.00" width="76.80" height="61.90"/></clipPath><g clip-path="url(#clip17)">
<path d="M357.0 472.2 L362.1 471.3 L366.9 470.7 L369.8 469.0 L371.0 466.6 L370.4 461.9" fill="none" stroke="#fbf8fc" stroke-width="1.8" stroke-linejoin="round" stroke-linecap="round" opacity="1.0"/>
<path d="M385.2 467.8 L392.9 466.6 L397.7 467.8 L400.6 470.7 L402.4 474.3 L406.0 475.5 L410.7 475.5 L415.4 473.7 L419.0 470.1 L419.6 464.2 L419.0 457.1 L420.0 452.0" fill="none" stroke="#fbf8fc" stroke-width="2.8" stroke-linejoin="round" stroke-linecap="round" opacity="1.0"/>
<path d="M419.6 465.4 L426.1 464.8 L434.0 464.2" fill="none" stroke="#fbf8fc" stroke-width="1.8" stroke-linejoin="round" stroke-linecap="round" opacity="1.0"/>
<path d="M389.4 505.7 L396.5 506.9 L402.4 508.1 L407.1 510.4 L411.9 511.6 L416.0 512.0" fill="none" stroke="#fbf8fc" stroke-width="2.4" stroke-linejoin="round" stroke-linecap="round" opacity="1.0"/>
<path d="M419.6 509.3 L426.1 504.5 L429.7 499.8 L434.0 497.0" fill="none" stroke="#fbf8fc" stroke-width="2.4" stroke-linejoin="round" stroke-linecap="round" opacity="1.0"/>
<path d="M357.0 484.0 L360.0 495.0 L358.0 505.0" fill="none" stroke="#fbf8fc" stroke-width="1.0" stroke-linejoin="round" stroke-linecap="round" opacity="0.7"/>
<path d="M372.0 505.0 L380.0 503.0 L386.0 503.0" fill="none" stroke="#fbf8fc" stroke-width="1.4" stroke-linejoin="round" stroke-linecap="round" opacity="1.0"/>
<path d="M392.0 455.0 L395.0 462.0" fill="none" stroke="#fbf8fc" stroke-width="0.8" stroke-linejoin="round" stroke-linecap="round" opacity="0.7"/>
<path d="M428.0 480.0 L431.0 490.0" fill="none" stroke="#fbf8fc" stroke-width="0.8" stroke-linejoin="round" stroke-linecap="round" opacity="0.7"/>
<circle cx="386" cy="503.3" r="3.4" fill="#f2ece0"/><circle cx="386.3" cy="503.6" r="1.2" fill="#9a6a50"/>
</g>
<text x="376.3" y="481.5" font-family="Liberation Serif" font-weight="bold" font-size="5.8" fill="#222" text-anchor="middle">CV</text>
<text x="403.6" y="481.5" font-family="Liberation Serif" font-weight="bold" font-size="5.8" fill="#222" text-anchor="middle">H</text>
<clipPath id="clip18"><rect x="437.80" y="452.00" width="76.80" height="61.90"/></clipPath><g clip-path="url(#clip18)">
<path d="M455.5 514 q1 -4 2.5 -6 q1.5 2 2.5 6 z" fill="#f0d0e8" opacity="0.8"/>
<circle cx="480.6" cy="463" r="0.8" fill="#602050"/>
</g>
<text x="458.1" y="476.5" font-family="Liberation Serif" font-weight="bold" font-size="5.8" fill="#222" text-anchor="middle">H</text>
<clipPath id="clip19"><rect x="526.60" y="452.40" width="71.00" height="60.60"/></clipPath><g clip-path="url(#clip19)">
<path d="M558.3 484 q2 -5 6 -8 q4 -2 8 -1.5 q3 -1 5 -1 q0 3 -2 5 q-3 3 -7 4 q-3 1 -5 4 q-3 2 -5 -2.5 z" fill="#f6f2f8"/>
<ellipse cx="567.8" cy="478.9" rx="1.3" ry="1.1" fill="#8a4048"/><ellipse cx="572.8" cy="479.4" rx="1.6" ry="1.1" fill="#8a4048"/>
<path d="M528.3 461.1 L529.0 463.2 L530.4 464.9 L531.7 466.7 L531.9 469.0 L532.3 471.3 L533.6 473.3 L533.9 475.6 L533.2 477.5 L532.3 479.3 L531.8 481.3 L531.7 483.3 L532.4 485.6 L533.7 487.6 L534.3 489.9 L535.0 492.2 L534.9 494.3 L536.3 496.1 L536.5 498.2 L536.2 500.3 L537.2 502.2 L537.7 504.3 L538.4 506.5 L538.7 508.6 L538.5 510.9 L539.4 513.0" fill="none" stroke="#fbf8fc" stroke-width="1.4" stroke-linejoin="round" stroke-linecap="round" opacity="1.0"/>
<path d="M538.3 464.4 L539.5 466.2 L539.8 468.4 L540.7 470.3 L541.7 472.2 L542.8 473.9 L543.9 475.6" fill="none" stroke="#fbf8fc" stroke-width="1.0" stroke-linejoin="round" stroke-linecap="round" opacity="1.0"/>
<path d="M575.0 481.1 L574.7 483.4 L575.9 485.5 L576.2 487.7 L575.3 490.0 L576.1 492.2 L576.8 494.4 L577.1 496.6 L576.7 498.9 L577.2 501.1 L577.6 503.5 L577.2 505.9 L578.2 508.2 L577.5 510.7 L578.3 513.0" fill="none" stroke="#fbf8fc" stroke-width="1.4" stroke-linejoin="round" stroke-linecap="round" opacity="1.0"/>
<path d="M560.6 501.1 L562.7 502.0 L564.9 502.4 L567.2 502.2 L570.0 502.4 L572.8 501.7" fill="none" stroke="#fbf8fc" stroke-width="1.3" stroke-linejoin="round" stroke-linecap="round" opacity="1.0"/>
<path d="M580.6 470.0 L581.6 467.8 L582.5 465.7 L582.8 463.3 L583.6 460.9 L585.0 458.9 L586.3 456.9 L586.1 454.4 L587.2 452.4" fill="none" stroke="#fbf8fc" stroke-width="1.1" stroke-linejoin="round" stroke-linecap="round" opacity="1.0"/>
<path d="M593.9 458.9 L594.4 461.1 L594.1 463.4 L594.6 465.6 L595.7 467.7 L595.3 470.1 L596.1 472.2 L595.7 474.4 L596.2 476.7 L594.9 478.8 L595.5 481.1 L595.0 483.3 L595.7 485.5 L596.0 487.7 L596.2 490.0 L597.2 492.1 L597.2 494.4 L596.8 496.6 L596.4 498.8 L596.5 501.1 L596.0 503.3 L596.1 505.6" fill="none" stroke="#fbf8fc" stroke-width="1.2" stroke-linejoin="round" stroke-linecap="round" opacity="1.0"/>
<path d="M556.1 492.2 L556.0 494.2 L556.9 496.2 L557.1 498.2 L556.9 500.2 L557.2 502.2 L557.9 504.3 L557.3 506.6 L557.5 508.7 L558.6 510.8 L558.3 513.0" fill="none" stroke="#fbf8fc" stroke-width="1.1" stroke-linejoin="round" stroke-linecap="round" opacity="1.0"/>
<path d="M527.0 480.0 L527.8 482.1 L528.8 484.1 L530.0 486.0" fill="none" stroke="#fbf8fc" stroke-width="0.8" stroke-linejoin="round" stroke-linecap="round" opacity="1.0"/>
</g>
<text x="551.7" y="463.5" font-family="Liberation Serif" font-weight="bold" font-size="5.8" fill="#222" text-anchor="middle">C</text>
<text x="551.7" y="472.9" font-family="Liberation Serif" font-weight="bold" font-size="5.8" fill="#222" text-anchor="middle">V</text>
<text x="547.8" y="497.9" font-family="Liberation Serif" font-weight="bold" font-size="5.8" fill="#222" text-anchor="middle">H</text>
<clipPath id="clip20"><rect x="601.10" y="452.40" width="71.30" height="60.60"/></clipPath><g clip-path="url(#clip20)">
<path d="M612 485 q1 -4 6 -5 q5 -1 8 1 q2 2 0 4 q-3 4 -8 4 q-5 0 -6 -4 z" fill="#f4f0f8"/>
<ellipse cx="648.2" cy="468.8" rx="5.8" ry="4.3" fill="#f4f0f8"/>
<path d="M601.0 505.0 L602.6 504.7 L604.7 504.4 L606.8 504.6 L608.8 503.3 L610.9 503.3 L613.1 503.8 L615.1 503.0 L617.4 503.1 L619.6 502.4 L621.9 502.5 L624.2 503.1 L626.5 502.5 L628.8 502.1 L631.0 501.2 L633.4 501.9 L635.6 500.6 L637.9 500.7 L640.2 500.6 L642.5 500.3 L644.7 499.8 L647.0 499.6 L649.1 500.0 L651.1 499.0 L653.2 499.4 L655.2 498.7 L657.3 499.0 L659.6 499.3 L661.8 498.0 L664.1 498.2 L666.4 497.9 L668.7 497.8 L670.9 497.4 L673.0 496.5" fill="none" stroke="#fbf8fc" stroke-width="2.0" stroke-linejoin="round" stroke-linecap="round" opacity="1.0"/>
<path d="M647.0 488.8 L647.4 490.9 L647.8 493.1 L648.1 495.2 L647.5 497.5 L648.2 499.6" fill="none" stroke="#fbf8fc" stroke-width="1.1" stroke-linejoin="round" stroke-linecap="round" opacity="1.0"/>
<path d="M653.9 500.2 L654.1 502.5 L655.2 504.6 L655.0 507.0" fill="none" stroke="#fbf8fc" stroke-width="1.0" stroke-linejoin="round" stroke-linecap="round" opacity="1.0"/>
<path d="M604.8 456.8 L606.2 458.6 L606.3 460.9 L607.8 462.6 L608.3 464.8 L608.0 466.8 L607.5 468.8 L607.1 470.7 L607.1 472.8" fill="none" stroke="#fbf8fc" stroke-width="0.9" stroke-linejoin="round" stroke-linecap="round" opacity="1.0"/>
<path d="M620.8 452.4 L621.1 454.6 L621.2 456.9 L621.0 459.2 L622.1 461.4 L621.9 463.7" fill="none" stroke="#fbf8fc" stroke-width="0.9" stroke-linejoin="round" stroke-linecap="round" opacity="1.0"/>
<path d="M665.3 481.9 L666.7 483.7 L667.6 485.7 L668.7 487.6 L669.4 489.7 L669.3 491.8 L669.8 493.9 L670.0 495.9 L669.9 498.1 L669.8 500.2" fill="none" stroke="#fbf8fc" stroke-width="1.0" stroke-linejoin="round" stroke-linecap="round" opacity="1.0"/>
<path d="M630.0 488.0 L630.2 490.1 L631.3 492.0 L631.7 494.0 L632.0 496.1 L633.0 498.0" fill="none" stroke="#fbf8fc" stroke-width="0.8" stroke-linejoin="round" stroke-linecap="round" opacity="1.0"/>
</g>
<text x="614.5" y="464.2" font-family="Liberation Serif" font-weight="bold" font-size="5.8" fill="#222" text-anchor="middle">C</text>
<text x="615.1" y="473.9" font-family="Liberation Serif" font-weight="bold" font-size="5.8" fill="#222" text-anchor="middle">V</text>
<text x="635.6" y="472.2" font-family="Liberation Serif" font-weight="bold" font-size="5.8" fill="#222" text-anchor="middle">H</text>
<clipPath id="clip21"><rect x="357.00" y="516.40" width="76.80" height="61.70"/></clipPath><g clip-path="url(#clip21)">
<linearGradient id="hpg" x1="0" x2="1" y1="0" y2="0"><stop offset="0" stop-color="#b088dc" stop-opacity="0.55"/><stop offset="0.5" stop-color="#b088dc" stop-opacity="0.2"/><stop offset="1" stop-color="#a078cc" stop-opacity="0"/></linearGradient>
<rect x="357.00" y="516.40" width="50.00" height="61.70" fill="url(#hpg)" />
<path d="M368.4 557.3 L376.9 543.6" fill="none" stroke="#fbf8fc" stroke-width="0.8831360308769556" stroke-linejoin="round" stroke-linecap="round" opacity="0.9"/>
<path d="M404.1 519.6 L408.5 512.6" fill="none" stroke="#fbf8fc" stroke-width="1.069975265677168" stroke-linejoin="round" stroke-linecap="round" opacity="0.9"/>
<path d="M366.6 540.9 L382.4 515.5" fill="none" stroke="#fbf8fc" stroke-width="0.7762108060179583" stroke-linejoin="round" stroke-linecap="round" opacity="0.9"/>
<path d="M418.8 554.9 L430.4 536.2" fill="none" stroke="#fbf8fc" stroke-width="0.5204931392188191" stroke-linejoin="round" stroke-linecap="round" opacity="0.9"/>
<path d="M401.9 581.9 L412.3 565.4" fill="none" stroke="#fbf8fc" stroke-width="0.9930014849611922" stroke-linejoin="round" stroke-linecap="round" opacity="0.9"/>
<path d="M403.7 526.5 L416.8 505.5" fill="none" stroke="#fbf8fc" stroke-width="0.872879666345054" stroke-linejoin="round" stroke-linecap="round" opacity="0.9"/>
<path d="M371.0 525.1 L385.3 502.2" fill="none" stroke="#fbf8fc" stroke-width="0.7781992709323735" stroke-linejoin="round" stroke-linecap="round" opacity="0.9"/>
<path d="M408.1 584.5 L420.7 564.4" fill="none" stroke="#fbf8fc" stroke-width="1.1368789340670995" stroke-linejoin="round" stroke-linecap="round" opacity="0.9"/>
<path d="M381.6 576.4 L391.0 561.3" fill="none" stroke="#fbf8fc" stroke-width="1.1484693773636168" stroke-linejoin="round" stroke-linecap="round" opacity="0.9"/>
<path d="M425.4 523.0 L431.2 513.7" fill="none" stroke="#fbf8fc" stroke-width="0.5735895529865098" stroke-linejoin="round" stroke-linecap="round" opacity="0.9"/>
<path d="M430.0 551.9 L441.6 533.4" fill="none" stroke="#fbf8fc" stroke-width="0.6408209587404043" stroke-linejoin="round" stroke-linecap="round" opacity="0.9"/>
<path d="M391.9 545.7 L400.2 532.4" fill="none" stroke="#fbf8fc" stroke-width="0.8680592859242908" stroke-linejoin="round" stroke-linecap="round" opacity="0.9"/>
<path d="M396.6 586.0 L408.8 566.5" fill="none" stroke="#fbf8fc" stroke-width="1.1431564809600134" stroke-linejoin="round" stroke-linecap="round" opacity="0.9"/>
<path d="M420.3 592.1 L432.4 572.8" fill="none" stroke="#fbf8fc" stroke-width="0.5304796975768558" stroke-linejoin="round" stroke-linecap="round" opacity="0.9"/>
<path d="M419.3 592.4 L434.1 568.7" fill="none" stroke="#fbf8fc" stroke-width="0.8552860027794588" stroke-linejoin="round" stroke-linecap="round" opacity="0.9"/>
<path d="M407.0 537.7 L420.9 515.4" fill="none" stroke="#fbf8fc" stroke-width="0.8588258818810277" stroke-linejoin="round" stroke-linecap="round" opacity="0.9"/>
<path d="M369.6 527.3 L383.8 504.6" fill="none" stroke="#fbf8fc" stroke-width="1.191844811937265" stroke-linejoin="round" stroke-linecap="round" opacity="0.9"/>
<path d="M355.2 576.0 L364.2 561.6" fill="none" stroke="#fbf8fc" stroke-width="0.5206122995622476" stroke-linejoin="round" stroke-linecap="round" opacity="0.9"/>
<path d="M370.3 578.1 L384.7 555.0" fill="none" stroke="#fbf8fc" stroke-width="0.4353520489036347" stroke-linejoin="round" stroke-linecap="round" opacity="0.9"/>
<path d="M399.0 524.7 L411.6 504.5" fill="none" stroke="#fbf8fc" stroke-width="0.6647633168152061" stroke-linejoin="round" stroke-linecap="round" opacity="0.9"/>
<path d="M423.4 589.8 L433.5 573.6" fill="none" stroke="#fbf8fc" stroke-width="1.1988071563006213" stroke-linejoin="round" stroke-linecap="round" opacity="0.9"/>
<path d="M373.3 525.9 L384.5 507.9" fill="none" stroke="#fbf8fc" stroke-width="0.4251022097402542" stroke-linejoin="round" stroke-linecap="round" opacity="0.9"/>
<path d="M363.5 549.7 L374.8 531.6" fill="none" stroke="#fbf8fc" stroke-width="0.5249591928108518" stroke-linejoin="round" stroke-linecap="round" opacity="0.9"/>
<path d="M351.7 579.9 L359.6 567.3" fill="none" stroke="#fbf8fc" stroke-width="1.1669275411267641" stroke-linejoin="round" stroke-linecap="round" opacity="0.9"/>
<path d="M425.0 546.2 L434.6 530.8" fill="none" stroke="#fbf8fc" stroke-width="0.816058387674051" stroke-linejoin="round" stroke-linecap="round" opacity="0.9"/>
<path d="M402.5 562.7 L413.3 545.5" fill="none" stroke="#fbf8fc" stroke-width="0.8961009083562095" stroke-linejoin="round" stroke-linecap="round" opacity="0.9"/>
<path d="M429.0 555.2 L438.3 540.3" fill="none" stroke="#fbf8fc" stroke-width="0.9762490017153107" stroke-linejoin="round" stroke-linecap="round" opacity="0.9"/>
<path d="M364.8 545.5 L380.4 520.5" fill="none" stroke="#fbf8fc" stroke-width="0.8169018346249648" stroke-linejoin="round" stroke-linecap="round" opacity="0.9"/>
<path d="M395.1 519.5 L404.1 505.0" fill="none" stroke="#fbf8fc" stroke-width="0.8639721710376524" stroke-linejoin="round" stroke-linecap="round" opacity="0.9"/>
<path d="M347.9 564.8 L359.5 546.3" fill="none" stroke="#fbf8fc" stroke-width="0.44806440850217844" stroke-linejoin="round" stroke-linecap="round" opacity="0.9"/>
<path d="M400.4 554.6 L412.5 535.1" fill="none" stroke="#fbf8fc" stroke-width="0.6820615864328379" stroke-linejoin="round" stroke-linecap="round" opacity="0.9"/>
<path d="M411.1 567.9 L415.6 560.7" fill="none" stroke="#fbf8fc" stroke-width="0.44846144291663786" stroke-linejoin="round" stroke-linecap="round" opacity="0.9"/>
<path d="M407.1 586.2 L414.3 574.7" fill="none" stroke="#fbf8fc" stroke-width="0.7650497037091033" stroke-linejoin="round" stroke-linecap="round" opacity="0.9"/>
<path d="M399.2 541.1 L407.7 527.6" fill="none" stroke="#fbf8fc" stroke-width="0.6501365289575286" stroke-linejoin="round" stroke-linecap="round" opacity="0.9"/>
<path d="M375.0 580.0 L383.0 566.0 L392.0 551.0 L399.0 540.0 L406.0 530.0 L412.0 522.0" fill="none" stroke="#fbf8fc" stroke-width="3.2" stroke-linejoin="round" stroke-linecap="round" opacity="1.0"/>
<path d="M383 517 L393 517 L390 528 L384 530 z" fill="#fbf6fa"/>
<path d="M414.0 560.0 L420.0 550.0 L428.0 540.0 L433.0 532.0" fill="none" stroke="#fbf8fc" stroke-width="1.6" stroke-linejoin="round" stroke-linecap="round" opacity="1.0"/>
<path d="M422.0 545.0 L430.0 530.0" fill="none" stroke="#fbf8fc" stroke-width="2.0" stroke-linejoin="round" stroke-linecap="round" opacity="1.0"/>
</g>
<text x="363.3" y="538.5" font-family="Liberation Serif" font-weight="bold" font-size="5.8" fill="#222" text-anchor="middle">M</text>
<text x="395.9" y="535.0" font-family="Liberation Serif" font-weight="bold" font-size="5.8" fill="#222" text-anchor="middle">BV</text>
<clipPath id="clip22"><rect x="437.80" y="516.40" width="76.80" height="61.70"/></clipPath><g clip-path="url(#clip22)">
<path d="M438 531 Q448 522 460 517" stroke="#fbe6f4" stroke-width="0.7" fill="none"/>
<path d="M441 528 Q450 520 463 517" stroke="#fbe6f4" stroke-width="0.7" fill="none"/>
<path d="M444 525 Q452 518 466 517" stroke="#fbe6f4" stroke-width="0.7" fill="none"/>
<path d="M447 522 Q454 516 469 517" stroke="#fbe6f4" stroke-width="0.7" fill="none"/>
<path d="M450 519 Q456 514 472 517" stroke="#fbe6f4" stroke-width="0.7" fill="none"/>
<path d="M481.5 569.1 L492.2 560.1" fill="none" stroke="#f8c8e6" stroke-width="0.6827350851331151" stroke-linejoin="round" stroke-linecap="round" opacity="0.6"/>
<path d="M494.6 579.6 L499.4 575.5" fill="none" stroke="#f8c8e6" stroke-width="0.5396867963134315" stroke-linejoin="round" stroke-linecap="round" opacity="0.6"/>
<path d="M508.9 562.8 L520.4 553.1" fill="none" stroke="#f8c8e6" stroke-width="0.4339617893959433" stroke-linejoin="round" stroke-linecap="round" opacity="0.6"/>
<path d="M469.1 532.8 L477.9 525.4" fill="none" stroke="#f8c8e6" stroke-width="0.5721823563784302" stroke-linejoin="round" stroke-linecap="round" opacity="0.6"/>
<path d="M430.6 529.8 L437.3 524.1" fill="none" stroke="#f8c8e6" stroke-width="0.6749036115425655" stroke-linejoin="round" stroke-linecap="round" opacity="0.6"/>
<path d="M493.9 527.3 L504.6 518.4" fill="none" stroke="#f8c8e6" stroke-width="0.44163022551967096" stroke-linejoin="round" stroke-linecap="round" opacity="0.6"/>
<path d="M484.1 522.4 L488.7 518.6" fill="none" stroke="#f8c8e6" stroke-width="0.6614214234172846" stroke-linejoin="round" stroke-linecap="round" opacity="0.6"/>
<path d="M444.9 531.9 L457.0 521.8" fill="none" stroke="#f8c8e6" stroke-width="0.6617223296310406" stroke-linejoin="round" stroke-linecap="round" opacity="0.6"/>
<path d="M453.5 584.0 L462.3 576.7" fill="none" stroke="#f8c8e6" stroke-width="0.6033491431751776" stroke-linejoin="round" stroke-linecap="round" opacity="0.6"/>
<path d="M445.6 583.0 L455.5 574.7" fill="none" stroke="#f8c8e6" stroke-width="0.6899692936951586" stroke-linejoin="round" stroke-linecap="round" opacity="0.6"/>
<path d="M506.7 535.9 L514.1 529.7" fill="none" stroke="#f8c8e6" stroke-width="0.4497868171389237" stroke-linejoin="round" stroke-linecap="round" opacity="0.6"/>
<path d="M442.0 519.0 L448.9 513.2" fill="none" stroke="#f8c8e6" stroke-width="0.5809329992222962" stroke-linejoin="round" stroke-linecap="round" opacity="0.6"/>
<path d="M429.5 563.0 L436.7 557.0" fill="none" stroke="#f8c8e6" stroke-width="0.4929873794809386" stroke-linejoin="round" stroke-linecap="round" opacity="0.6"/>
<path d="M500.3 548.8 L507.4 542.9" fill="none" stroke="#f8c8e6" stroke-width="0.5443655158710592" stroke-linejoin="round" stroke-linecap="round" opacity="0.6"/>
<path d="M487.9 520.5 L500.0 510.4" fill="none" stroke="#f8c8e6" stroke-width="0.4068596689758162" stroke-linejoin="round" stroke-linecap="round" opacity="0.6"/>
<path d="M495.5 574.0 L500.2 570.0" fill="none" stroke="#f8c8e6" stroke-width="0.6363214911941302" stroke-linejoin="round" stroke-linecap="round" opacity="0.6"/>
<path d="M462.3 554.8 L466.9 550.9" fill="none" stroke="#f8c8e6" stroke-width="0.4140181356096825" stroke-linejoin="round" stroke-linecap="round" opacity="0.6"/>
<path d="M445.5 582.4 L451.6 577.3" fill="none" stroke="#f8c8e6" stroke-width="0.6267209237353952" stroke-linejoin="round" stroke-linecap="round" opacity="0.6"/>
<path d="M509.9 582.0 L517.1 575.9" fill="none" stroke="#f8c8e6" stroke-width="0.5064379615173736" stroke-linejoin="round" stroke-linecap="round" opacity="0.6"/>
<path d="M475.6 569.3 L481.1 564.7" fill="none" stroke="#f8c8e6" stroke-width="0.6245194169453989" stroke-linejoin="round" stroke-linecap="round" opacity="0.6"/>
<path d="M499.6 575.1 L504.4 571.0" fill="none" stroke="#f8c8e6" stroke-width="0.6837400555126552" stroke-linejoin="round" stroke-linecap="round" opacity="0.6"/>
<path d="M436.1 539.7 L445.4 531.9" fill="none" stroke="#f8c8e6" stroke-width="0.6754261556599936" stroke-linejoin="round" stroke-linecap="round" opacity="0.6"/>
<path d="M457.9 581.3 L466.7 574.0" fill="none" stroke="#f8c8e6" stroke-width="0.4937351108028721" stroke-linejoin="round" stroke-linecap="round" opacity="0.6"/>
<path d="M457.7 526.3 L462.9 521.9" fill="none" stroke="#f8c8e6" stroke-width="0.4446604133869746" stroke-linejoin="round" stroke-linecap="round" opacity="0.6"/>
<path d="M489.7 585.3 L495.5 580.4" fill="none" stroke="#f8c8e6" stroke-width="0.4145656490645369" stroke-linejoin="round" stroke-linecap="round" opacity="0.6"/>
<path d="M514.6 552.9 L522.3 546.4" fill="none" stroke="#f8c8e6" stroke-width="0.4712009811562862" stroke-linejoin="round" stroke-linecap="round" opacity="0.6"/>
<path d="M480.3 574.0 L488.4 567.3" fill="none" stroke="#f8c8e6" stroke-width="0.5265271845734768" stroke-linejoin="round" stroke-linecap="round" opacity="0.6"/>
<path d="M435.2 579.1 L440.1 575.0" fill="none" stroke="#f8c8e6" stroke-width="0.5480692595262496" stroke-linejoin="round" stroke-linecap="round" opacity="0.6"/>
<path d="M500.5 525.0 L510.7 516.5" fill="none" stroke="#f8c8e6" stroke-width="0.6849395687865696" stroke-linejoin="round" stroke-linecap="round" opacity="0.6"/>
<path d="M484.8 570.2 L490.2 565.6" fill="none" stroke="#f8c8e6" stroke-width="0.5303665571801311" stroke-linejoin="round" stroke-linecap="round" opacity="0.6"/>
</g>
<text x="469.2" y="538.0" font-family="Liberation Serif" font-weight="bold" font-size="5.8" fill="#222" text-anchor="middle">BV</text>
<text x="489.3" y="532.8" font-family="Liberation Serif" font-weight="bold" font-size="5.8" fill="#222" text-anchor="middle">M</text>
<clipPath id="clip23"><rect x="526.60" y="515.60" width="71.00" height="60.00"/></clipPath><g clip-path="url(#clip23)">
<radialGradient id="hsg"><stop offset="0" stop-color="#aa96e0" stop-opacity="0.7"/><stop offset="1" stop-color="#aa96e0" stop-opacity="0"/></radialGradient>
<ellipse cx="555" cy="540" rx="30" ry="22" fill="url(#hsg)"/>
<path d="M527.4 527.7 L532.0 537.0 L537.4 545.6 L546.4 556.7 L553.1 565.7 L559.8 570.2 L568.7 572.4 L575.0 576.0" fill="none" stroke="#fbf8fc" stroke-width="1.5" stroke-linejoin="round" stroke-linecap="round" opacity="1.0"/>
<path d="M575.5 523.2 L586.6 516.5 L595.6 514.2" fill="none" stroke="#fbf8fc" stroke-width="2.4" stroke-linejoin="round" stroke-linecap="round" opacity="1.0"/>
<path d="M582.2 538.8 L591.1 529.9 L597.8 520.9" fill="none" stroke="#fbf8fc" stroke-width="2.6" stroke-linejoin="round" stroke-linecap="round" opacity="1.0"/>
<path d="M595.6 550.0 L596.0 560.0" fill="none" stroke="#fbf8fc" stroke-width="1.6" stroke-linejoin="round" stroke-linecap="round" opacity="1.0"/>
<path d="M543.2 524.4 L552.4 517.9" fill="none" stroke="#fbf8fc" stroke-width="0.42897451466701714" stroke-linejoin="round" stroke-linecap="round" opacity="0.6"/>
<path d="M562.4 538.1 L567.7 534.3" fill="none" stroke="#fbf8fc" stroke-width="0.6029742932757681" stroke-linejoin="round" stroke-linecap="round" opacity="0.6"/>
<path d="M522.0 542.8 L527.3 539.1" fill="none" stroke="#fbf8fc" stroke-width="0.43628520533754606" stroke-linejoin="round" stroke-linecap="round" opacity="0.6"/>
<path d="M553.1 570.5 L558.8 566.5" fill="none" stroke="#fbf8fc" stroke-width="0.48929558584280586" stroke-linejoin="round" stroke-linecap="round" opacity="0.6"/>
<path d="M568.1 580.0 L576.8 573.9" fill="none" stroke="#fbf8fc" stroke-width="0.5586721898603121" stroke-linejoin="round" stroke-linecap="round" opacity="0.6"/>
<path d="M595.4 517.6 L605.9 510.2" fill="none" stroke="#fbf8fc" stroke-width="0.5158437145326705" stroke-linejoin="round" stroke-linecap="round" opacity="0.6"/>
<path d="M529.8 521.3 L536.8 516.4" fill="none" stroke="#fbf8fc" stroke-width="0.7264505436480126" stroke-linejoin="round" stroke-linecap="round" opacity="0.6"/>
<path d="M531.7 554.5 L540.8 548.1" fill="none" stroke="#fbf8fc" stroke-width="0.5489590170902925" stroke-linejoin="round" stroke-linecap="round" opacity="0.6"/>
<path d="M563.3 516.9 L568.6 513.1" fill="none" stroke="#fbf8fc" stroke-width="0.48238348512773066" stroke-linejoin="round" stroke-linecap="round" opacity="0.6"/>
<path d="M573.2 543.0 L580.2 538.1" fill="none" stroke="#fbf8fc" stroke-width="0.6342247454030555" stroke-linejoin="round" stroke-linecap="round" opacity="0.6"/>
</g>
<text x="534.0" y="554.5" font-family="Liberation Serif" font-weight="bold" font-size="5.8" fill="#222" text-anchor="middle">B</text>
<text x="534.0" y="563.5" font-family="Liberation Serif" font-weight="bold" font-size="5.8" fill="#222" text-anchor="middle">V</text>
<text x="575.5" y="550.0" font-family="Liberation Serif" font-weight="bold" font-size="5.8" fill="#222" text-anchor="middle">M</text>
<clipPath id="clip24"><rect x="601.10" y="515.60" width="71.30" height="60.00"/></clipPath><g clip-path="url(#clip24)">
<path d="M602.3 556.7 L610.0 547.0 L618.0 538.8 L625.0 533.0 L631.4 527.7 L635.9 520.9 L640.0 516.0" fill="none" stroke="#fbf8fc" stroke-width="2.8" stroke-linejoin="round" stroke-linecap="round" opacity="1.0"/>
<path d="M611.2 576.0 L621.0 566.0 L631.4 556.7" fill="none" stroke="#fbf8fc" stroke-width="1.2" stroke-linejoin="round" stroke-linecap="round" opacity="1.0"/>
<path d="M626.0 540.0 L646.0 527.0 L660.0 520.0" fill="none" stroke="#fbf8fc" stroke-width="0.9" stroke-linejoin="round" stroke-linecap="round" opacity="1.0"/>
<path d="M635.0 545.0 L655.0 532.0 L672.0 525.0" fill="none" stroke="#fbf8fc" stroke-width="0.9" stroke-linejoin="round" stroke-linecap="round" opacity="1.0"/>
<path d="M630.6 538.9 L636.9 534.5" fill="none" stroke="#fbf8fc" stroke-width="0.8332809249931707" stroke-linejoin="round" stroke-linecap="round" opacity="0.6"/>
<path d="M589.8 550.6 L603.5 541.0" fill="none" stroke="#fbf8fc" stroke-width="0.44040732359150053" stroke-linejoin="round" stroke-linecap="round" opacity="0.6"/>
<path d="M638.5 555.6 L643.8 551.9" fill="none" stroke="#fbf8fc" stroke-width="0.5895098021977179" stroke-linejoin="round" stroke-linecap="round" opacity="0.6"/>
<path d="M647.3 546.5 L659.3 538.0" fill="none" stroke="#fbf8fc" stroke-width="0.47857858079831295" stroke-linejoin="round" stroke-linecap="round" opacity="0.6"/>
<path d="M610.5 521.8 L620.4 514.9" fill="none" stroke="#fbf8fc" stroke-width="0.8619148932061478" stroke-linejoin="round" stroke-linecap="round" opacity="0.6"/>
<path d="M639.8 567.8 L648.4 561.8" fill="none" stroke="#fbf8fc" stroke-width="0.7730476084622143" stroke-linejoin="round" stroke-linecap="round" opacity="0.6"/>
<path d="M598.6 535.0 L610.1 526.9" fill="none" stroke="#fbf8fc" stroke-width="0.7628531761206525" stroke-linejoin="round" stroke-linecap="round" opacity="0.6"/>
<path d="M626.6 519.4 L634.2 514.1" fill="none" stroke="#fbf8fc" stroke-width="0.5049450650682409" stroke-linejoin="round" stroke-linecap="round" opacity="0.6"/>
<path d="M615.5 569.7 L622.4 564.9" fill="none" stroke="#fbf8fc" stroke-width="0.8431998655396387" stroke-linejoin="round" stroke-linecap="round" opacity="0.6"/>
<path d="M663.3 517.5 L671.9 511.4" fill="none" stroke="#fbf8fc" stroke-width="0.6458558683810488" stroke-linejoin="round" stroke-linecap="round" opacity="0.6"/>
<path d="M591.1 545.2 L604.9 535.5" fill="none" stroke="#fbf8fc" stroke-width="0.45602313564722446" stroke-linejoin="round" stroke-linecap="round" opacity="0.6"/>
<path d="M639.3 522.8 L649.9 515.4" fill="none" stroke="#fbf8fc" stroke-width="0.8476517247117921" stroke-linejoin="round" stroke-linecap="round" opacity="0.6"/>
</g>
<text x="626.9" y="559.0" font-family="Liberation Serif" font-weight="bold" font-size="5.8" fill="#222" text-anchor="middle">B</text>
<text x="626.9" y="567.0" font-family="Liberation Serif" font-weight="bold" font-size="5.8" fill="#222" text-anchor="middle">V</text>
<text x="647.0" y="556.5" font-family="Liberation Serif" font-weight="bold" font-size="5.8" fill="#222" text-anchor="middle">M</text>
<clipPath id="clip25"><rect x="357.00" y="581.00" width="76.80" height="62.20"/></clipPath><g clip-path="url(#clip25)">
<circle cx="384" cy="592" r="6.5" fill="none" stroke="#e0508e" stroke-width="2.4" opacity="0.8"/>
<path d="M382 586 l3 -3 l3 3 l4 -2 l-1 5 l-3 4 l-5 0 l-3 -3 z" fill="#d83a80" opacity="0.9"/>
</g>
<text x="401.8" y="612.0" font-family="Liberation Serif" font-weight="bold" font-size="5.8" fill="#222" text-anchor="middle">A</text>
<clipPath id="clip26"><rect x="437.80" y="581.00" width="76.80" height="62.20"/></clipPath><g clip-path="url(#clip26)">
<ellipse cx="481.5" cy="623.3" rx="6.2" ry="4.2" fill="#fdf6fb"/>
<ellipse cx="459.7" cy="621.8" rx="3.2" ry="2.6" fill="#fdf6fb"/>
<ellipse cx="446" cy="590" rx="3" ry="2.2" fill="#fdf6fb"/>
</g>
<text x="463.3" y="605.5" font-family="Liberation Serif" font-weight="bold" font-size="5.8" fill="#222" text-anchor="middle">A</text>
<clipPath id="clip27"><rect x="526.60" y="579.10" width="71.00" height="59.90"/></clipPath><g clip-path="url(#clip27)">
<path d="M561.0 595.0 L561.5 607.0 L562.0 620.0" fill="none" stroke="#b070b8" stroke-width="2.2" stroke-linejoin="round" stroke-linecap="round" opacity="0.8"/>
<path d="M530.0 590.0 L540.0 600.0 L545.0 605.0" fill="none" stroke="#b070b8" stroke-width="1.4" stroke-linejoin="round" stroke-linecap="round" opacity="0.6"/>
</g>
<clipPath id="clip28"><rect x="601.10" y="579.10" width="71.30" height="59.90"/></clipPath><g clip-path="url(#clip28)">
<path d="M663 612 q3 -2 4 3 q0 6 -2 10 q-3 1 -3 -6 z" fill="#8050a8" opacity="0.8"/>
</g>
<text x="644.8" y="630.0" font-family="Liberation Serif" font-weight="bold" font-size="5.8" fill="#222" text-anchor="middle">A</text>
<clipPath id="clip29"><rect x="357.00" y="646.00" width="76.80" height="61.50"/></clipPath><g clip-path="url(#clip29)">
<rect x="395.00" y="646.00" width="39.00" height="61.50" fill="#d0c0e8" opacity="0.35"/>
<path d="M381.3 646.0 L378.9 655.9 L369.3 658.3 L366.9 667.9 L371.7 682.2 L376.5 691.7 L383.6 701.3 L386.0 708.0" fill="none" stroke="#fbf8fc" stroke-width="2.2" stroke-linejoin="round" stroke-linecap="round" opacity="1.0"/>
<path d="M383.0 647.0 L384.0 652.0 L383.0 658.0" fill="none" stroke="#fbf8fc" stroke-width="1.4" stroke-linejoin="round" stroke-linecap="round" opacity="1.0"/>
<path d="M393.0 676.0 L400.0 674.0 L405.0 678.0 L412.0 675.0" fill="none" stroke="#fbf8fc" stroke-width="1.2" stroke-linejoin="round" stroke-linecap="round" opacity="1.0"/>
<path d="M400.0 688.0 L410.0 690.0" fill="none" stroke="#fbf8fc" stroke-width="1.0" stroke-linejoin="round" stroke-linecap="round" opacity="1.0"/>
<ellipse cx="411.1" cy="665.5" rx="1.8" ry="1.3" fill="#c0304a" opacity="0.75"/>
<ellipse cx="393.2" cy="685.8" rx="1.8" ry="1.3" fill="#c0304a" opacity="0.75"/>
<ellipse cx="359.8" cy="688.2" rx="1.8" ry="1.3" fill="#c0304a" opacity="0.75"/>
<ellipse cx="424.2" cy="696.5" rx="1.8" ry="1.3" fill="#c0304a" opacity="0.75"/>
<ellipse cx="405" cy="697" rx="1.8" ry="1.3" fill="#c0304a" opacity="0.75"/>
</g>
<clipPath id="clip30"><rect x="437.80" y="646.00" width="76.80" height="61.50"/></clipPath><g clip-path="url(#clip30)">
<path d="M470.6 682.3 L473.5 679.8" fill="none" stroke="#fbe8f4" stroke-width="0.7862600280399094" stroke-linejoin="round" stroke-linecap="round" opacity="0.7"/>
<path d="M476.0 683.8 L477.8 682.2" fill="none" stroke="#fbe8f4" stroke-width="0.8047634556167222" stroke-linejoin="round" stroke-linecap="round" opacity="0.7"/>
<path d="M486.6 698.4 L488.3 697.0" fill="none" stroke="#fbe8f4" stroke-width="0.7213605050498102" stroke-linejoin="round" stroke-linecap="round" opacity="0.7"/>
<path d="M439.4 700.0 L442.0 697.8" fill="none" stroke="#fbe8f4" stroke-width="0.6167521345479384" stroke-linejoin="round" stroke-linecap="round" opacity="0.7"/>
<path d="M516.8 711.0 L519.3 708.9" fill="none" stroke="#fbe8f4" stroke-width="0.8462250818314283" stroke-linejoin="round" stroke-linecap="round" opacity="0.7"/>
<path d="M445.3 643.1 L447.6 641.1" fill="none" stroke="#fbe8f4" stroke-width="0.623820442067542" stroke-linejoin="round" stroke-linecap="round" opacity="0.7"/>
<path d="M448.5 659.0 L450.1 657.6" fill="none" stroke="#fbe8f4" stroke-width="0.7855737844893138" stroke-linejoin="round" stroke-linecap="round" opacity="0.7"/>
<path d="M469.9 702.2 L472.2 700.3" fill="none" stroke="#fbe8f4" stroke-width="0.8561166831676708" stroke-linejoin="round" stroke-linecap="round" opacity="0.7"/>
<path d="M475.1 689.3 L477.3 687.4" fill="none" stroke="#fbe8f4" stroke-width="0.7112651598655544" stroke-linejoin="round" stroke-linecap="round" opacity="0.7"/>
<path d="M518.0 713.4 L520.8 711.0" fill="none" stroke="#fbe8f4" stroke-width="0.8831238485991797" stroke-linejoin="round" stroke-linecap="round" opacity="0.7"/>
<path d="M459.2 658.2 L461.2 656.6" fill="none" stroke="#fbe8f4" stroke-width="0.6280893998239704" stroke-linejoin="round" stroke-linecap="round" opacity="0.7"/>
<path d="M497.9 670.8 L500.7 668.4" fill="none" stroke="#fbe8f4" stroke-width="0.7546054126823738" stroke-linejoin="round" stroke-linecap="round" opacity="0.7"/>
<path d="M515.2 702.2 L516.7 700.9" fill="none" stroke="#fbe8f4" stroke-width="0.6838869658918445" stroke-linejoin="round" stroke-linecap="round" opacity="0.7"/>
<path d="M510.3 675.9 L513.3 673.3" fill="none" stroke="#fbe8f4" stroke-width="0.7589697552317125" stroke-linejoin="round" stroke-linecap="round" opacity="0.7"/>
<path d="M437.8 687.1 L440.5 684.9" fill="none" stroke="#fbe8f4" stroke-width="0.7079102347400571" stroke-linejoin="round" stroke-linecap="round" opacity="0.7"/>
<path d="M438.9 666.0 L441.9 663.5" fill="none" stroke="#fbe8f4" stroke-width="0.9032162067975036" stroke-linejoin="round" stroke-linecap="round" opacity="0.7"/>
<path d="M442.2 659.3 L443.9 657.9" fill="none" stroke="#fbe8f4" stroke-width="0.6239573611764306" stroke-linejoin="round" stroke-linecap="round" opacity="0.7"/>
<path d="M500.8 654.7 L503.2 652.7" fill="none" stroke="#fbe8f4" stroke-width="0.7789699510004087" stroke-linejoin="round" stroke-linecap="round" opacity="0.7"/>
<path d="M448.5 694.1 L450.2 692.6" fill="none" stroke="#fbe8f4" stroke-width="0.8574860494844668" stroke-linejoin="round" stroke-linecap="round" opacity="0.7"/>
<path d="M442.0 671.9 L443.8 670.3" fill="none" stroke="#fbe8f4" stroke-width="0.7079179908762393" stroke-linejoin="round" stroke-linecap="round" opacity="0.7"/>
<path d="M516.1 699.3 L518.1 697.6" fill="none" stroke="#fbe8f4" stroke-width="0.9539460450995884" stroke-linejoin="round" stroke-linecap="round" opacity="0.7"/>
<path d="M449.7 670.4 L452.5 668.0" fill="none" stroke="#fbe8f4" stroke-width="0.8567342626361842" stroke-linejoin="round" stroke-linecap="round" opacity="0.7"/>
<path d="M440.6 712.5 L442.4 711.0" fill="none" stroke="#fbe8f4" stroke-width="0.7033110231446482" stroke-linejoin="round" stroke-linecap="round" opacity="0.7"/>
<path d="M498.9 665.4 L500.9 663.7" fill="none" stroke="#fbe8f4" stroke-width="0.6293594213553696" stroke-linejoin="round" stroke-linecap="round" opacity="0.7"/>
<path d="M439.7 683.5 L441.6 681.9" fill="none" stroke="#fbe8f4" stroke-width="0.8405135374327755" stroke-linejoin="round" stroke-linecap="round" opacity="0.7"/>
</g>
<text x="476.7" y="662.5" font-family="Liberation Serif" font-weight="bold" font-size="5.8" fill="#222" text-anchor="middle">G</text>
<clipPath id="clip31"><rect x="526.60" y="642.60" width="71.00" height="63.00"/></clipPath><g clip-path="url(#clip31)">
<g fill="#f8f4fc" opacity="0.9"><circle cx="532.9" cy="679.4" r="1.07"/><circle cx="532.3" cy="681.9" r="0.98"/><circle cx="530.4" cy="701.6" r="0.79"/><circle cx="530.8" cy="648.6" r="1.11"/><circle cx="551.0" cy="691.9" r="0.92"/><circle cx="534.0" cy="643.3" r="1.12"/><circle cx="542.3" cy="664.7" r="1.12"/><circle cx="539.0" cy="701.6" r="1.19"/><circle cx="533.6" cy="699.5" r="0.64"/><circle cx="541.5" cy="668.2" r="0.79"/><circle cx="528.2" cy="691.7" r="0.61"/><circle cx="542.0" cy="701.9" r="0.71"/><circle cx="532.2" cy="680.9" r="1.01"/><circle cx="544.6" cy="693.8" r="0.74"/><circle cx="535.3" cy="661.5" r="0.64"/><circle cx="551.5" cy="691.9" r="1.17"/><circle cx="526.8" cy="695.8" r="1.20"/><circle cx="539.6" cy="689.3" r="0.96"/><circle cx="532.9" cy="649.2" r="0.79"/><circle cx="527.7" cy="663.7" r="1.20"/><circle cx="546.1" cy="695.9" r="1.17"/><circle cx="534.0" cy="677.5" r="0.95"/><circle cx="548.7" cy="675.6" r="0.81"/><circle cx="544.6" cy="703.4" r="0.77"/><circle cx="551.2" cy="643.6" r="0.81"/><circle cx="533.2" cy="689.5" r="1.36"/><circle cx="547.5" cy="663.2" r="1.30"/><circle cx="535.8" cy="657.7" r="1.33"/><circle cx="544.3" cy="686.2" r="1.13"/><circle cx="554.0" cy="672.2" r="1.27"/><circle cx="546.1" cy="696.6" r="0.95"/><circle cx="546.9" cy="678.5" r="0.85"/><circle cx="532.5" cy="681.8" r="0.66"/><circle cx="552.1" cy="651.7" r="0.62"/><circle cx="529.6" cy="701.1" r="0.88"/><circle cx="530.6" cy="644.4" r="0.63"/><circle cx="546.0" cy="682.5" r="1.16"/><circle cx="547.2" cy="646.7" r="1.07"/><circle cx="536.8" cy="694.1" r="1.26"/><circle cx="551.6" cy="646.8" r="1.29"/><circle cx="552.2" cy="702.1" r="0.69"/><circle cx="532.4" cy="649.7" r="0.63"/><circle cx="550.3" cy="693.8" r="1.11"/><circle cx="549.7" cy="682.4" r="0.83"/><circle cx="529.4" cy="648.8" r="1.21"/><circle cx="532.3" cy="662.7" r="0.94"/><circle cx="527.2" cy="658.8" r="0.83"/><circle cx="546.6" cy="665.8" r="0.86"/><circle cx="553.6" cy="674.3" r="1.28"/><circle cx="543.9" cy="644.6" r="0.93"/><circle cx="538.8" cy="691.3" r="0.88"/><circle cx="546.3" cy="676.5" r="0.77"/><circle cx="550.7" cy="648.3" r="1.26"/><circle cx="531.4" cy="642.7" r="0.76"/><circle cx="547.9" cy="704.2" r="0.60"/><circle cx="540.3" cy="673.6" r="1.24"/><circle cx="531.8" cy="673.8" r="0.88"/><circle cx="549.9" cy="659.0" r="1.36"/><circle cx="534.5" cy="656.1" r="1.16"/><circle cx="540.6" cy="649.5" r="1.11"/></g>
<ellipse cx="582" cy="655" rx="14" ry="10" fill="#d4c4ec" opacity="0.5"/>
<path d="M566.0 679.0 L568.7 678.0 L574.0 676.0 L579.9 673.6 L586.6 666.8 L591.0 663.0 L597.0 660.1" fill="none" stroke="#fbf8fc" stroke-width="1.6" stroke-linejoin="round" stroke-linecap="round" opacity="1.0"/>
<ellipse cx="590" cy="690.3" rx="1.8" ry="3.6" fill="#c04050" opacity="0.8"/>
</g>
<text x="557.0" y="682.0" font-family="Liberation Serif" font-weight="bold" font-size="5.8" fill="#222" text-anchor="middle">A</text>
<text x="581.5" y="680.5" font-family="Liberation Serif" font-weight="bold" font-size="5.8" fill="#222" text-anchor="middle">G</text>
<clipPath id="clip32"><rect x="601.10" y="642.60" width="71.30" height="63.00"/></clipPath><g clip-path="url(#clip32)">
<path d="M605.0 650.0 L612.0 670.0" fill="none" stroke="#fbf8fc" stroke-width="1.3" stroke-linejoin="round" stroke-linecap="round" opacity="1.0"/>
<path d="M610.0 665.0 L618.0 690.0" fill="none" stroke="#fbf8fc" stroke-width="1.5" stroke-linejoin="round" stroke-linecap="round" opacity="1.0"/>
<path d="M615.0 648.0 L622.0 668.0" fill="none" stroke="#fbf8fc" stroke-width="1.1" stroke-linejoin="round" stroke-linecap="round" opacity="1.0"/>
<path d="M620.0 675.0 L628.0 700.0" fill="none" stroke="#fbf8fc" stroke-width="1.4" stroke-linejoin="round" stroke-linecap="round" opacity="1.0"/>
<path d="M628.0 655.0 L634.0 672.0" fill="none" stroke="#fbf8fc" stroke-width="1.1" stroke-linejoin="round" stroke-linecap="round" opacity="1.0"/>
<path d="M603.0 685.0 L609.0 705.0" fill="none" stroke="#fbf8fc" stroke-width="1.2" stroke-linejoin="round" stroke-linecap="round" opacity="1.0"/>
<path d="M632.0 680.0 L640.0 706.0" fill="none" stroke="#fbf8fc" stroke-width="1.2" stroke-linejoin="round" stroke-linecap="round" opacity="1.0"/>
<path d="M640.0 650.0 L652.0 660.0" fill="none" stroke="#fbf8fc" stroke-width="1.0" stroke-linejoin="round" stroke-linecap="round" opacity="1.0"/>
<path d="M655.0 648.0 L668.0 652.0" fill="none" stroke="#fbf8fc" stroke-width="1.0" stroke-linejoin="round" stroke-linecap="round" opacity="1.0"/>
<path d="M618.0 700.0 L626.0 706.0" fill="none" stroke="#fbf8fc" stroke-width="1.0" stroke-linejoin="round" stroke-linecap="round" opacity="1.0"/>
<path d="M614.8 693.4 L619.5 681.8" fill="none" stroke="#fbf8fc" stroke-width="1.279468929111944" stroke-linejoin="round" stroke-linecap="round" opacity="0.85"/>
<path d="M610.0 657.5 L612.4 651.4" fill="none" stroke="#fbf8fc" stroke-width="0.7801303484496901" stroke-linejoin="round" stroke-linecap="round" opacity="0.85"/>
<path d="M653.7 652.1 L657.8 642.1" fill="none" stroke="#fbf8fc" stroke-width="0.7711260243933925" stroke-linejoin="round" stroke-linecap="round" opacity="0.85"/>
<path d="M617.4 675.7 L622.7 662.5" fill="none" stroke="#fbf8fc" stroke-width="1.086721718299429" stroke-linejoin="round" stroke-linecap="round" opacity="0.85"/>
<path d="M596.0 660.8 L598.5 654.7" fill="none" stroke="#fbf8fc" stroke-width="1.2970277833587518" stroke-linejoin="round" stroke-linecap="round" opacity="0.85"/>
<path d="M659.3 703.0 L664.6 689.9" fill="none" stroke="#fbf8fc" stroke-width="1.195800122241766" stroke-linejoin="round" stroke-linecap="round" opacity="0.85"/>
<path d="M671.8 699.2 L674.7 691.9" fill="none" stroke="#fbf8fc" stroke-width="1.2799512102247943" stroke-linejoin="round" stroke-linecap="round" opacity="0.85"/>
<path d="M633.6 697.9 L637.8 687.5" fill="none" stroke="#fbf8fc" stroke-width="0.943662116949131" stroke-linejoin="round" stroke-linecap="round" opacity="0.85"/>
<path d="M624.1 672.9 L627.3 665.1" fill="none" stroke="#fbf8fc" stroke-width="0.6938880404590322" stroke-linejoin="round" stroke-linecap="round" opacity="0.85"/>
<path d="M659.8 703.2 L665.7 688.5" fill="none" stroke="#fbf8fc" stroke-width="1.1527381208442298" stroke-linejoin="round" stroke-linecap="round" opacity="0.85"/>
<path d="M639.9 695.2 L642.4 689.2" fill="none" stroke="#fbf8fc" stroke-width="1.1414572520789448" stroke-linejoin="round" stroke-linecap="round" opacity="0.85"/>
<path d="M630.8 653.8 L633.5 647.1" fill="none" stroke="#fbf8fc" stroke-width="1.0181546411290672" stroke-linejoin="round" stroke-linecap="round" opacity="0.85"/>
<path d="M614.5 676.5 L618.9 665.7" fill="none" stroke="#fbf8fc" stroke-width="0.9166058950976576" stroke-linejoin="round" stroke-linecap="round" opacity="0.85"/>
<path d="M605.3 677.0 L608.2 669.9" fill="none" stroke="#fbf8fc" stroke-width="0.7885426633752655" stroke-linejoin="round" stroke-linecap="round" opacity="0.85"/>
<path d="M610.8 667.0 L613.0 661.7" fill="none" stroke="#fbf8fc" stroke-width="1.1209854163473008" stroke-linejoin="round" stroke-linecap="round" opacity="0.85"/>
<path d="M671.2 672.0 L676.1 660.1" fill="none" stroke="#fbf8fc" stroke-width="1.346382253572369" stroke-linejoin="round" stroke-linecap="round" opacity="0.85"/>
<path d="M597.0 654.4 L602.2 641.5" fill="none" stroke="#fbf8fc" stroke-width="1.270516302854521" stroke-linejoin="round" stroke-linecap="round" opacity="0.85"/>
<path d="M646.3 653.7 L649.8 644.8" fill="none" stroke="#fbf8fc" stroke-width="1.2945932164864404" stroke-linejoin="round" stroke-linecap="round" opacity="0.85"/>
<path d="M666.8 699.6 L669.5 692.9" fill="none" stroke="#fbf8fc" stroke-width="1.2829233743578088" stroke-linejoin="round" stroke-linecap="round" opacity="0.85"/>
<path d="M625.3 692.9 L627.8 686.9" fill="none" stroke="#fbf8fc" stroke-width="1.3770426315301694" stroke-linejoin="round" stroke-linecap="round" opacity="0.85"/>
<path d="M643.8 693.8 L646.5 687.0" fill="none" stroke="#fbf8fc" stroke-width="1.0937923970375254" stroke-linejoin="round" stroke-linecap="round" opacity="0.85"/>
<path d="M641.6 684.9 L645.0 676.6" fill="none" stroke="#fbf8fc" stroke-width="1.1821548615091313" stroke-linejoin="round" stroke-linecap="round" opacity="0.85"/>
<path d="M648 700 q1 -8 5 -14 q3 -3 4 1 q-1 7 -5 14 z" fill="#b83040" opacity="0.8"/>
</g>
<text x="646.5" y="662.5" font-family="Liberation Serif" font-weight="bold" font-size="5.8" fill="#222" text-anchor="middle">E</text>
<text x="646.0" y="700.5" font-family="Liberation Serif" font-weight="bold" font-size="5.8" fill="#222" text-anchor="middle">A</text>
<line x1="378.10" y1="482.60" x2="382.89" y2="495.60" stroke="#111" stroke-width="1.2"/>
<polygon points="384.00,498.60 380.74,495.54 382.87,495.52 384.49,494.16" fill="#111"/>
<line x1="407.70" y1="482.00" x2="412.41" y2="492.67" stroke="#111" stroke-width="1.2"/>
<polygon points="413.70,495.60 410.26,492.75 412.38,492.60 413.92,491.13" fill="#111"/>
<line x1="460.00" y1="478.00" x2="464.86" y2="488.59" stroke="#111" stroke-width="1.2"/>
<polygon points="466.20,491.50 462.71,488.70 464.83,488.52 466.35,487.03" fill="#111"/>
<line x1="557.20" y1="460.00" x2="561.60" y2="470.93" stroke="#111" stroke-width="1.2"/>
<polygon points="562.80,473.90 559.45,470.94 561.57,470.86 563.16,469.44" fill="#111"/>
<line x1="546.70" y1="488.30" x2="550.05" y2="482.74" stroke="#111" stroke-width="1.2"/>
<polygon points="551.70,480.00 551.35,484.46 550.01,482.81 547.92,482.39" fill="#111"/>
<line x1="615.60" y1="463.70" x2="619.28" y2="476.03" stroke="#111" stroke-width="1.2"/>
<polygon points="620.20,479.10 617.14,475.84 619.26,475.96 620.97,474.69" fill="#111"/>
<line x1="637.00" y1="472.00" x2="640.91" y2="484.06" stroke="#111" stroke-width="1.2"/>
<polygon points="641.90,487.10 638.76,483.91 640.89,483.98 642.57,482.68" fill="#111"/>
<line x1="364.50" y1="538.50" x2="375.46" y2="545.99" stroke="#111" stroke-width="1.2"/>
<polygon points="378.10,547.80 373.67,547.19 375.39,545.95 375.93,543.89" fill="#111"/>
<line x1="398.50" y1="535.50" x2="407.48" y2="541.77" stroke="#111" stroke-width="1.2"/>
<polygon points="410.10,543.60 405.68,542.95 407.41,541.72 407.97,539.67" fill="#111"/>
<line x1="466.20" y1="535.30" x2="459.93" y2="522.76" stroke="#111" stroke-width="1.2"/>
<polygon points="458.50,519.90 462.08,522.58 459.97,522.83 458.50,524.37" fill="#111"/>
<line x1="491.70" y1="531.20" x2="501.95" y2="537.27" stroke="#111" stroke-width="1.2"/>
<polygon points="504.70,538.90 500.24,538.58 501.88,537.23 502.28,535.14" fill="#111"/>
<line x1="538.50" y1="554.50" x2="550.38" y2="561.82" stroke="#111" stroke-width="1.2"/>
<polygon points="553.10,563.50 548.65,563.10 550.31,561.78 550.74,559.70" fill="#111"/>
<line x1="578.80" y1="550.00" x2="591.64" y2="556.46" stroke="#111" stroke-width="1.2"/>
<polygon points="594.50,557.90 590.03,557.89 591.57,556.43 591.83,554.32" fill="#111"/>
<line x1="625.80" y1="554.50" x2="621.55" y2="540.76" stroke="#111" stroke-width="1.2"/>
<polygon points="620.60,537.70 623.69,540.93 621.57,540.83 619.87,542.11" fill="#111"/>
<line x1="649.30" y1="555.60" x2="659.08" y2="563.23" stroke="#111" stroke-width="1.2"/>
<polygon points="661.60,565.20 657.22,564.32 659.01,563.18 659.68,561.16" fill="#111"/>
<line x1="400.60" y1="608.80" x2="391.33" y2="596.55" stroke="#111" stroke-width="1.2"/>
<polygon points="389.40,594.00 393.41,595.98 391.38,596.62 390.22,598.40" fill="#111"/>
<line x1="467.00" y1="606.50" x2="474.19" y2="614.69" stroke="#111" stroke-width="1.2"/>
<polygon points="476.30,617.10 472.16,615.41 474.14,614.63 475.17,612.77" fill="#111"/>
<line x1="649.30" y1="623.00" x2="642.43" y2="615.29" stroke="#111" stroke-width="1.2"/>
<polygon points="640.30,612.90 644.45,614.56 642.48,615.35 641.47,617.22" fill="#111"/>
<line x1="378.90" y1="660.70" x2="382.07" y2="662.63" stroke="#111" stroke-width="1.2"/>
<polygon points="384.80,664.30 380.34,663.92 382.00,662.59 382.43,660.51" fill="#111"/>
<line x1="392.00" y1="654.70" x2="398.79" y2="658.99" stroke="#111" stroke-width="1.2"/>
<polygon points="401.50,660.70 397.05,660.26 398.73,658.95 399.19,656.87" fill="#111"/>
<line x1="480.30" y1="661.90" x2="486.80" y2="661.90" stroke="#111" stroke-width="1.2"/>
<polygon points="490.00,661.90 486.00,663.90 486.72,661.90 486.00,659.90" fill="#111"/>
<line x1="557.60" y1="680.30" x2="562.80" y2="684.03" stroke="#111" stroke-width="1.2"/>
<polygon points="565.40,685.90 560.98,685.19 562.74,683.99 563.32,681.94" fill="#111"/>
<line x1="582.20" y1="679.10" x2="589.55" y2="684.10" stroke="#111" stroke-width="1.2"/>
<polygon points="592.20,685.90 587.77,685.30 589.49,684.06 590.02,682.00" fill="#111"/>
<line x1="649.30" y1="661.30" x2="653.53" y2="664.77" stroke="#111" stroke-width="1.2"/>
<polygon points="656.00,666.80 651.64,665.81 653.46,664.72 654.18,662.72" fill="#111"/>
<line x1="648.20" y1="699.30" x2="652.03" y2="701.19" stroke="#111" stroke-width="1.2"/>
<polygon points="654.90,702.60 650.43,702.63 651.96,701.15 652.20,699.04" fill="#111"/>
<text font-family="Liberation Serif" font-weight="bold" font-size="12" text-anchor="start" fill="#000" transform="translate(370.70 720.90) scale(0.995 0.878) rotate(0)">Control</text>
<text font-family="Liberation Serif" font-weight="bold" font-size="12" text-anchor="start" fill="#000" transform="translate(449.30 721.50) scale(0.997 0.944) rotate(0)">5000 mg/kg</text>
<text font-family="Liberation Serif" font-weight="bold" font-size="12" text-anchor="start" fill="#000" transform="translate(543.70 717.70) scale(0.975 0.900) rotate(0)">Control</text>
<text font-family="Liberation Serif" font-weight="bold" font-size="12" text-anchor="start" fill="#000" transform="translate(609.60 717.70) scale(0.992 0.900) rotate(0)">5000 mg/kg</text>
</svg>
</body></html>
